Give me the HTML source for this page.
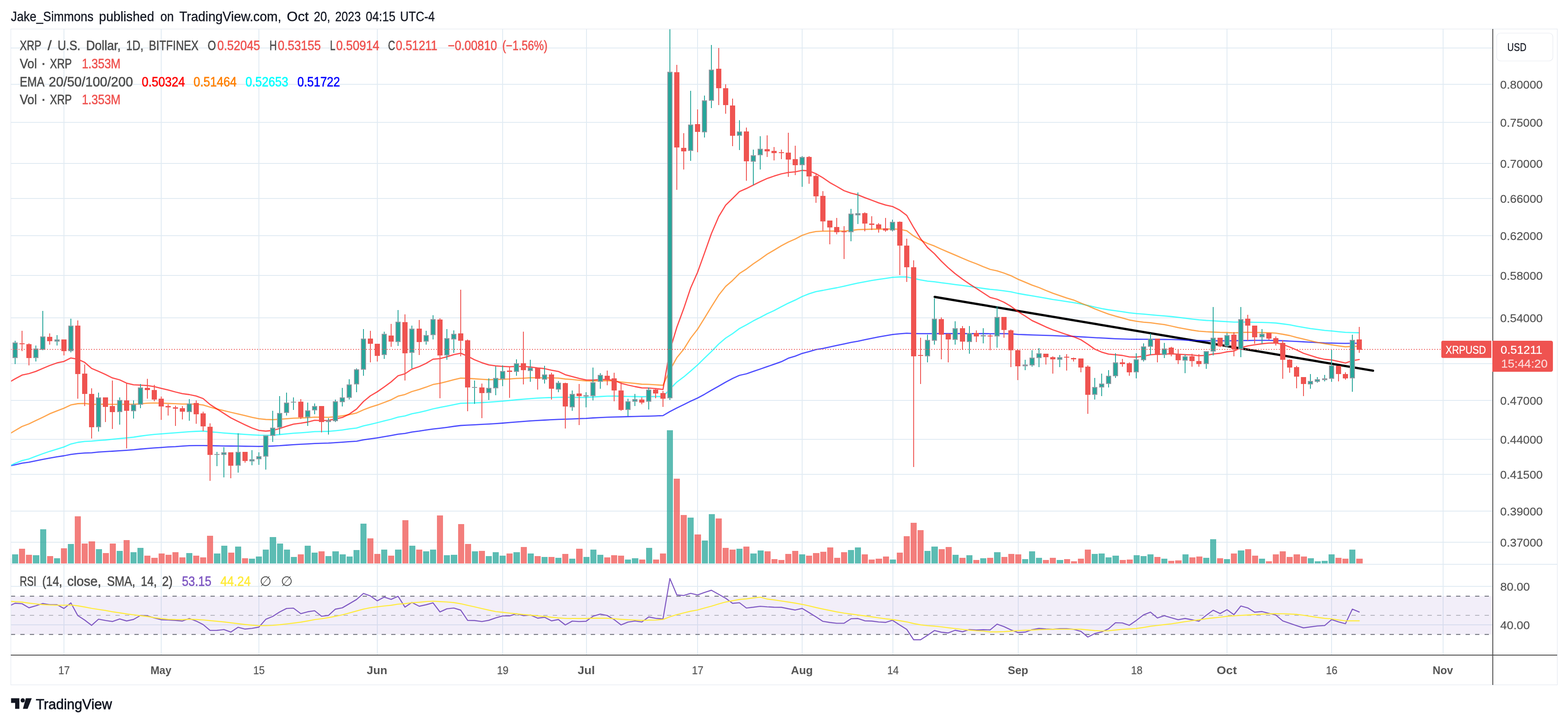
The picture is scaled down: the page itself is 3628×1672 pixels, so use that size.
<!DOCTYPE html>
<html lang="en"><head><meta charset="utf-8"><title>XRPUSD chart</title>
<style>html,body{margin:0;padding:0;background:#fff;}body{width:3628px;height:1672px;overflow:hidden;}svg{display:block;}text{font-family:'Liberation Sans', Arial, sans-serif;white-space:pre;stroke-width:0.3px;paint-order:stroke;}.b{font-weight:bold;}</style></head><body>
<svg width="3628" height="1672" viewBox="0 0 3628 1672">
<rect width="3628" height="1672" fill="#fff"/>
<g fill="#e1ebf3" shape-rendering="crispEdges">
<rect x="147" y="67" width="2" height="1448"/>
<rect x="372" y="67" width="2" height="1448"/>
<rect x="598" y="67" width="2" height="1448"/>
<rect x="872" y="67" width="2" height="1448"/>
<rect x="1162" y="67" width="2" height="1448"/>
<rect x="1356" y="67" width="2" height="1448"/>
<rect x="1613" y="67" width="2" height="1448"/>
<rect x="1855" y="67" width="2" height="1448"/>
<rect x="2065" y="67" width="2" height="1448"/>
<rect x="2355" y="67" width="2" height="1448"/>
<rect x="2629" y="67" width="2" height="1448"/>
<rect x="2838" y="67" width="2" height="1448"/>
<rect x="3080" y="67" width="2" height="1448"/>
<rect x="3338" y="67" width="2" height="1448"/>
<rect x="25" y="110" width="3428" height="2"/>
<rect x="25" y="194" width="3428" height="2"/>
<rect x="25" y="282" width="3428" height="2"/>
<rect x="25" y="377" width="3428" height="2"/>
<rect x="25" y="458" width="3428" height="2"/>
<rect x="25" y="544" width="3428" height="2"/>
<rect x="25" y="636" width="3428" height="2"/>
<rect x="25" y="734" width="3428" height="2"/>
<rect x="25" y="840" width="3428" height="2"/>
<rect x="25" y="925" width="3428" height="2"/>
<rect x="25" y="1015" width="3428" height="2"/>
<rect x="25" y="1096" width="3428" height="2"/>
<rect x="25" y="1181" width="3428" height="2"/>
<rect x="25" y="1253" width="3428" height="2"/>
<rect x="25" y="1355" width="3428" height="2"/>
<rect x="25" y="1444" width="3428" height="2"/>
</g>
<rect x="25" y="1378.7" width="3429" height="88.6" fill="#7e57c2" fill-opacity="0.1"/>
<line x1="25" y1="1378.7" x2="3454" y2="1378.7" stroke="#686b76" stroke-opacity="1" stroke-width="2" stroke-dasharray="10 12" stroke-dashoffset="0"/>
<line x1="25" y1="1423.0" x2="3454" y2="1423.0" stroke="#787b86" stroke-opacity="0.5" stroke-width="2" stroke-dasharray="10 12" stroke-dashoffset="0"/>
<line x1="25" y1="1467.3" x2="3454" y2="1467.3" stroke="#686b76" stroke-opacity="1" stroke-width="2" stroke-dasharray="10 12" stroke-dashoffset="0"/>
<g shape-rendering="crispEdges" fill-opacity="0.75">
<rect x="25" y="1291" width="1" height="12" fill="#26a69a"/>
<rect x="28" y="1282" width="14" height="21" fill="#26a69a"/>
<rect x="44" y="1269" width="14" height="34" fill="#ef5350"/>
<rect x="60" y="1283" width="14" height="20" fill="#ef5350"/>
<rect x="76" y="1284" width="15" height="19" fill="#26a69a"/>
<rect x="93" y="1224" width="14" height="79" fill="#26a69a"/>
<rect x="109" y="1286" width="14" height="17" fill="#ef5350"/>
<rect x="125" y="1291" width="14" height="12" fill="#26a69a"/>
<rect x="141" y="1268" width="14" height="35" fill="#ef5350"/>
<rect x="157" y="1258" width="14" height="45" fill="#26a69a"/>
<rect x="173" y="1194" width="14" height="109" fill="#ef5350"/>
<rect x="189" y="1257" width="14" height="46" fill="#ef5350"/>
<rect x="205" y="1252" width="15" height="51" fill="#ef5350"/>
<rect x="222" y="1270" width="14" height="33" fill="#26a69a"/>
<rect x="238" y="1279" width="14" height="24" fill="#ef5350"/>
<rect x="254" y="1257" width="14" height="46" fill="#ef5350"/>
<rect x="270" y="1274" width="14" height="29" fill="#26a69a"/>
<rect x="286" y="1249" width="14" height="54" fill="#ef5350"/>
<rect x="302" y="1277" width="14" height="26" fill="#26a69a"/>
<rect x="318" y="1267" width="14" height="36" fill="#26a69a"/>
<rect x="334" y="1285" width="14" height="18" fill="#ef5350"/>
<rect x="350" y="1290" width="15" height="13" fill="#ef5350"/>
<rect x="367" y="1280" width="14" height="23" fill="#ef5350"/>
<rect x="383" y="1283" width="14" height="20" fill="#ef5350"/>
<rect x="399" y="1277" width="14" height="26" fill="#ef5350"/>
<rect x="415" y="1289" width="14" height="14" fill="#ef5350"/>
<rect x="431" y="1279" width="14" height="24" fill="#26a69a"/>
<rect x="447" y="1285" width="14" height="18" fill="#ef5350"/>
<rect x="463" y="1289" width="14" height="14" fill="#ef5350"/>
<rect x="479" y="1239" width="14" height="64" fill="#ef5350"/>
<rect x="495" y="1280" width="15" height="23" fill="#26a69a"/>
<rect x="512" y="1262" width="14" height="41" fill="#26a69a"/>
<rect x="528" y="1278" width="14" height="25" fill="#ef5350"/>
<rect x="544" y="1264" width="14" height="39" fill="#26a69a"/>
<rect x="560" y="1291" width="14" height="12" fill="#ef5350"/>
<rect x="576" y="1292" width="14" height="11" fill="#26a69a"/>
<rect x="592" y="1287" width="14" height="16" fill="#26a69a"/>
<rect x="608" y="1271" width="14" height="32" fill="#26a69a"/>
<rect x="624" y="1242" width="15" height="61" fill="#26a69a"/>
<rect x="641" y="1257" width="14" height="46" fill="#26a69a"/>
<rect x="657" y="1271" width="14" height="32" fill="#26a69a"/>
<rect x="673" y="1288" width="14" height="15" fill="#26a69a"/>
<rect x="689" y="1282" width="14" height="21" fill="#ef5350"/>
<rect x="705" y="1262" width="14" height="41" fill="#26a69a"/>
<rect x="721" y="1278" width="14" height="25" fill="#26a69a"/>
<rect x="737" y="1275" width="14" height="28" fill="#ef5350"/>
<rect x="753" y="1286" width="14" height="17" fill="#26a69a"/>
<rect x="769" y="1275" width="15" height="28" fill="#26a69a"/>
<rect x="786" y="1282" width="14" height="21" fill="#26a69a"/>
<rect x="802" y="1287" width="14" height="16" fill="#26a69a"/>
<rect x="818" y="1272" width="14" height="31" fill="#26a69a"/>
<rect x="834" y="1211" width="14" height="92" fill="#26a69a"/>
<rect x="850" y="1245" width="14" height="58" fill="#ef5350"/>
<rect x="866" y="1281" width="14" height="22" fill="#ef5350"/>
<rect x="882" y="1271" width="14" height="32" fill="#26a69a"/>
<rect x="898" y="1285" width="14" height="18" fill="#ef5350"/>
<rect x="914" y="1271" width="15" height="32" fill="#26a69a"/>
<rect x="931" y="1203" width="14" height="100" fill="#ef5350"/>
<rect x="947" y="1262" width="14" height="41" fill="#26a69a"/>
<rect x="963" y="1271" width="14" height="32" fill="#ef5350"/>
<rect x="979" y="1275" width="14" height="28" fill="#26a69a"/>
<rect x="995" y="1271" width="14" height="32" fill="#26a69a"/>
<rect x="1011" y="1192" width="14" height="111" fill="#ef5350"/>
<rect x="1027" y="1284" width="14" height="19" fill="#26a69a"/>
<rect x="1043" y="1283" width="15" height="20" fill="#26a69a"/>
<rect x="1060" y="1212" width="14" height="91" fill="#ef5350"/>
<rect x="1076" y="1258" width="14" height="45" fill="#ef5350"/>
<rect x="1092" y="1275" width="14" height="28" fill="#26a69a"/>
<rect x="1108" y="1274" width="14" height="29" fill="#ef5350"/>
<rect x="1124" y="1286" width="14" height="17" fill="#26a69a"/>
<rect x="1140" y="1277" width="14" height="26" fill="#26a69a"/>
<rect x="1156" y="1285" width="14" height="18" fill="#26a69a"/>
<rect x="1172" y="1280" width="14" height="23" fill="#ef5350"/>
<rect x="1188" y="1277" width="15" height="26" fill="#26a69a"/>
<rect x="1205" y="1265" width="14" height="38" fill="#ef5350"/>
<rect x="1221" y="1280" width="14" height="23" fill="#26a69a"/>
<rect x="1237" y="1286" width="14" height="17" fill="#ef5350"/>
<rect x="1253" y="1288" width="14" height="15" fill="#26a69a"/>
<rect x="1269" y="1288" width="14" height="15" fill="#ef5350"/>
<rect x="1285" y="1290" width="14" height="13" fill="#26a69a"/>
<rect x="1301" y="1281" width="14" height="22" fill="#ef5350"/>
<rect x="1317" y="1292" width="14" height="11" fill="#26a69a"/>
<rect x="1333" y="1269" width="15" height="34" fill="#ef5350"/>
<rect x="1350" y="1288" width="14" height="15" fill="#26a69a"/>
<rect x="1366" y="1271" width="14" height="32" fill="#26a69a"/>
<rect x="1382" y="1283" width="14" height="20" fill="#26a69a"/>
<rect x="1398" y="1289" width="14" height="14" fill="#ef5350"/>
<rect x="1414" y="1284" width="14" height="19" fill="#ef5350"/>
<rect x="1430" y="1285" width="14" height="18" fill="#ef5350"/>
<rect x="1446" y="1294" width="14" height="9" fill="#26a69a"/>
<rect x="1462" y="1291" width="15" height="12" fill="#26a69a"/>
<rect x="1479" y="1294" width="14" height="9" fill="#ef5350"/>
<rect x="1495" y="1267" width="14" height="36" fill="#26a69a"/>
<rect x="1511" y="1294" width="14" height="9" fill="#ef5350"/>
<rect x="1527" y="1280" width="14" height="23" fill="#ef5350"/>
<rect x="1575" y="1191" width="14" height="112" fill="#ef5350"/>
<rect x="1591" y="1197" width="14" height="106" fill="#26a69a"/>
<rect x="1607" y="1236" width="15" height="67" fill="#ef5350"/>
<rect x="1624" y="1250" width="14" height="53" fill="#26a69a"/>
<rect x="1640" y="1189" width="14" height="114" fill="#26a69a"/>
<rect x="1656" y="1199" width="14" height="104" fill="#ef5350"/>
<rect x="1672" y="1267" width="14" height="36" fill="#ef5350"/>
<rect x="1688" y="1271" width="14" height="32" fill="#ef5350"/>
<rect x="1704" y="1269" width="14" height="34" fill="#26a69a"/>
<rect x="1720" y="1264" width="14" height="39" fill="#ef5350"/>
<rect x="1736" y="1280" width="15" height="23" fill="#26a69a"/>
<rect x="1753" y="1273" width="14" height="30" fill="#26a69a"/>
<rect x="1769" y="1275" width="14" height="28" fill="#ef5350"/>
<rect x="1785" y="1293" width="14" height="10" fill="#ef5350"/>
<rect x="1801" y="1295" width="14" height="8" fill="#ef5350"/>
<rect x="1817" y="1281" width="14" height="22" fill="#ef5350"/>
<rect x="1833" y="1274" width="14" height="29" fill="#ef5350"/>
<rect x="1849" y="1282" width="14" height="21" fill="#26a69a"/>
<rect x="1865" y="1285" width="14" height="18" fill="#ef5350"/>
<rect x="1881" y="1279" width="15" height="24" fill="#ef5350"/>
<rect x="1898" y="1276" width="14" height="27" fill="#ef5350"/>
<rect x="1914" y="1266" width="14" height="37" fill="#ef5350"/>
<rect x="1930" y="1290" width="14" height="13" fill="#ef5350"/>
<rect x="1946" y="1277" width="14" height="26" fill="#ef5350"/>
<rect x="1962" y="1272" width="14" height="31" fill="#26a69a"/>
<rect x="1978" y="1266" width="14" height="37" fill="#26a69a"/>
<rect x="1994" y="1282" width="14" height="21" fill="#ef5350"/>
<rect x="2010" y="1294" width="14" height="9" fill="#ef5350"/>
<rect x="2026" y="1292" width="15" height="11" fill="#ef5350"/>
<rect x="2043" y="1287" width="14" height="16" fill="#ef5350"/>
<rect x="2059" y="1294" width="14" height="9" fill="#26a69a"/>
<rect x="2075" y="1278" width="14" height="25" fill="#ef5350"/>
<rect x="2091" y="1240" width="14" height="63" fill="#ef5350"/>
<rect x="2107" y="1209" width="14" height="94" fill="#ef5350"/>
<rect x="2123" y="1226" width="14" height="77" fill="#ef5350"/>
<rect x="2139" y="1274" width="14" height="29" fill="#26a69a"/>
<rect x="2155" y="1264" width="15" height="39" fill="#26a69a"/>
<rect x="2172" y="1270" width="14" height="33" fill="#ef5350"/>
<rect x="2188" y="1265" width="14" height="38" fill="#ef5350"/>
<rect x="2204" y="1283" width="14" height="20" fill="#26a69a"/>
<rect x="2220" y="1290" width="14" height="13" fill="#ef5350"/>
<rect x="2236" y="1284" width="14" height="19" fill="#26a69a"/>
<rect x="2252" y="1295" width="14" height="8" fill="#ef5350"/>
<rect x="2268" y="1291" width="14" height="12" fill="#26a69a"/>
<rect x="2284" y="1290" width="14" height="13" fill="#ef5350"/>
<rect x="2300" y="1277" width="15" height="26" fill="#26a69a"/>
<rect x="2317" y="1288" width="14" height="15" fill="#ef5350"/>
<rect x="2333" y="1281" width="14" height="22" fill="#ef5350"/>
<rect x="2349" y="1282" width="14" height="21" fill="#ef5350"/>
<rect x="2365" y="1293" width="14" height="10" fill="#26a69a"/>
<rect x="2381" y="1275" width="14" height="28" fill="#26a69a"/>
<rect x="2397" y="1290" width="14" height="13" fill="#26a69a"/>
<rect x="2413" y="1295" width="14" height="8" fill="#ef5350"/>
<rect x="2429" y="1290" width="14" height="13" fill="#ef5350"/>
<rect x="2445" y="1295" width="15" height="8" fill="#26a69a"/>
<rect x="2462" y="1293" width="14" height="10" fill="#ef5350"/>
<rect x="2478" y="1298" width="14" height="5" fill="#ef5350"/>
<rect x="2494" y="1292" width="14" height="11" fill="#ef5350"/>
<rect x="2510" y="1271" width="14" height="32" fill="#ef5350"/>
<rect x="2526" y="1281" width="14" height="22" fill="#26a69a"/>
<rect x="2542" y="1280" width="14" height="23" fill="#26a69a"/>
<rect x="2558" y="1289" width="14" height="14" fill="#26a69a"/>
<rect x="2574" y="1285" width="15" height="18" fill="#26a69a"/>
<rect x="2591" y="1295" width="14" height="8" fill="#ef5350"/>
<rect x="2607" y="1294" width="14" height="9" fill="#ef5350"/>
<rect x="2623" y="1284" width="14" height="19" fill="#26a69a"/>
<rect x="2639" y="1286" width="14" height="17" fill="#26a69a"/>
<rect x="2655" y="1282" width="14" height="21" fill="#26a69a"/>
<rect x="2671" y="1288" width="14" height="15" fill="#ef5350"/>
<rect x="2687" y="1292" width="14" height="11" fill="#26a69a"/>
<rect x="2703" y="1297" width="14" height="6" fill="#ef5350"/>
<rect x="2719" y="1296" width="15" height="7" fill="#ef5350"/>
<rect x="2736" y="1282" width="14" height="21" fill="#26a69a"/>
<rect x="2752" y="1289" width="14" height="14" fill="#ef5350"/>
<rect x="2768" y="1287" width="14" height="16" fill="#ef5350"/>
<rect x="2784" y="1290" width="14" height="13" fill="#26a69a"/>
<rect x="2800" y="1247" width="14" height="56" fill="#26a69a"/>
<rect x="2816" y="1291" width="14" height="12" fill="#ef5350"/>
<rect x="2832" y="1293" width="14" height="10" fill="#26a69a"/>
<rect x="2848" y="1280" width="14" height="23" fill="#ef5350"/>
<rect x="2864" y="1273" width="15" height="30" fill="#26a69a"/>
<rect x="2881" y="1270" width="14" height="33" fill="#ef5350"/>
<rect x="2897" y="1285" width="14" height="18" fill="#ef5350"/>
<rect x="2913" y="1292" width="14" height="11" fill="#26a69a"/>
<rect x="2929" y="1298" width="14" height="5" fill="#ef5350"/>
<rect x="2945" y="1282" width="14" height="21" fill="#ef5350"/>
<rect x="2961" y="1275" width="14" height="28" fill="#ef5350"/>
<rect x="2977" y="1288" width="14" height="15" fill="#ef5350"/>
<rect x="2993" y="1282" width="15" height="21" fill="#ef5350"/>
<rect x="3010" y="1287" width="14" height="16" fill="#ef5350"/>
<rect x="3026" y="1291" width="14" height="12" fill="#26a69a"/>
<rect x="3042" y="1298" width="14" height="5" fill="#26a69a"/>
<rect x="3058" y="1297" width="14" height="6" fill="#26a69a"/>
<rect x="3074" y="1282" width="14" height="21" fill="#26a69a"/>
<rect x="3090" y="1290" width="14" height="13" fill="#ef5350"/>
<rect x="3106" y="1292" width="14" height="11" fill="#ef5350"/>
<rect x="3122" y="1271" width="14" height="32" fill="#26a69a"/>
<rect x="3138" y="1292" width="15" height="11" fill="#ef5350"/>
<rect x="1543" y="995" width="14" height="308" fill="#26a69a"/>
<rect x="1559" y="1107" width="14" height="196" fill="#ef5350"/>
</g>
<clipPath id="cm"><rect x="25" y="67" width="3429" height="1238"/></clipPath>
<g clip-path="url(#cm)">
<line x1="2162.6" y1="686.6" x2="3176.9" y2="857.2" stroke="#000" stroke-width="5.2" stroke-linecap="round"/>
<polyline points="25.0,1077.0 35.0,1074.8 51.0,1071.2 67.0,1068.8 83.0,1065.7 99.0,1062.4 115.0,1059.4 132.0,1056.4 148.0,1054.0 164.0,1050.9 180.0,1048.9 196.0,1047.6 212.0,1047.1 228.0,1045.3 244.0,1044.3 260.0,1043.5 277.0,1042.3 293.0,1041.4 309.0,1040.2 325.0,1038.5 341.0,1037.1 357.0,1035.8 373.0,1034.8 389.0,1033.7 406.0,1032.9 422.0,1031.7 438.0,1030.7 454.0,1030.4 470.0,1030.3 486.0,1030.7 502.0,1031.0 518.0,1031.3 534.0,1031.5 551.0,1031.7 567.0,1032.0 583.0,1032.2 599.0,1032.4 615.0,1032.0 631.0,1031.5 647.0,1030.7 663.0,1029.5 679.0,1028.4 696.0,1027.4 712.0,1026.6 728.0,1025.7 744.0,1025.2 760.0,1024.7 776.0,1023.6 792.0,1022.6 808.0,1021.4 825.0,1020.3 841.0,1017.2 857.0,1014.8 873.0,1012.6 889.0,1009.9 905.0,1007.1 921.0,1004.1 937.0,1002.4 953.0,999.1 970.0,996.9 986.0,994.4 1002.0,992.2 1018.0,990.4 1034.0,988.3 1050.0,986.0 1066.0,984.0 1082.0,983.1 1098.0,982.3 1115.0,981.4 1131.0,980.6 1147.0,979.7 1163.0,978.5 1179.0,977.2 1195.0,975.8 1211.0,974.6 1227.0,973.4 1244.0,972.3 1260.0,971.5 1276.0,970.6 1292.0,969.9 1308.0,969.4 1324.0,968.8 1340.0,968.2 1356.0,967.7 1372.0,966.5 1389.0,965.7 1405.0,964.8 1421.0,964.3 1437.0,964.0 1453.0,963.5 1469.0,963.1 1485.0,962.6 1501.0,962.3 1517.0,961.8 1534.0,961.1 1550.0,951.7 1566.0,943.4 1582.0,935.8 1598.0,927.8 1614.0,920.4 1630.0,911.9 1646.0,902.5 1663.0,893.0 1679.0,883.7 1695.0,875.2 1711.0,868.0 1727.0,864.5 1743.0,858.9 1759.0,853.5 1775.0,847.9 1791.0,842.4 1808.0,836.4 1824.0,828.4 1840.0,823.6 1856.0,817.3 1872.0,813.1 1888.0,808.4 1904.0,805.8 1920.0,802.4 1936.0,798.9 1953.0,795.3 1969.0,791.9 1985.0,789.1 2001.0,785.7 2017.0,782.3 2033.0,779.2 2049.0,776.3 2065.0,773.7 2082.0,771.9 2098.0,770.7 2114.0,771.3 2130.0,771.7 2146.0,771.7 2162.0,771.5 2178.0,771.5 2194.0,771.5 2210.0,771.5 2227.0,771.5 2243.0,771.5 2259.0,771.5 2275.0,771.5 2291.0,771.8 2307.0,771.6 2323.0,771.6 2339.0,772.0 2355.0,773.3 2372.0,774.0 2388.0,774.6 2404.0,775.2 2420.0,775.7 2436.0,776.2 2452.0,776.8 2468.0,777.3 2484.0,777.9 2501.0,779.0 2517.0,779.9 2533.0,780.8 2549.0,781.7 2565.0,782.5 2581.0,783.3 2597.0,783.8 2613.0,784.3 2629.0,784.5 2646.0,784.7 2662.0,784.7 2678.0,784.8 2694.0,785.0 2710.0,785.1 2726.0,785.6 2742.0,786.3 2758.0,787.1 2774.0,787.5 2791.0,788.0 2807.0,788.0 2823.0,788.1 2839.0,788.1 2855.0,788.0 2871.0,787.6 2887.0,787.5 2903.0,787.1 2920.0,787.1 2936.0,787.1 2952.0,787.5 2968.0,788.0 2984.0,788.8 3000.0,789.7 3016.0,790.5 3032.0,791.4 3048.0,792.2 3065.0,793.1 3081.0,793.4 3097.0,793.9 3113.0,794.1 3129.0,793.9 3145.0,793.8" fill="none" stroke="#0000ff" stroke-width="2.8" stroke-opacity="0.7" stroke-linejoin="round" stroke-linecap="round"/>
<polyline points="25.0,1076.3 35.0,1071.5 51.0,1065.1 67.0,1061.3 83.0,1055.1 99.0,1049.3 115.0,1043.8 132.0,1038.7 148.0,1033.6 164.0,1026.8 180.0,1023.0 196.0,1020.8 212.0,1020.2 228.0,1018.7 244.0,1017.5 260.0,1015.8 277.0,1014.1 293.0,1012.7 309.0,1011.0 325.0,1008.5 341.0,1006.4 357.0,1004.7 373.0,1003.3 389.0,1002.1 406.0,1000.9 422.0,999.6 438.0,998.4 454.0,997.5 470.0,997.0 486.0,998.7 502.0,999.9 518.0,1001.3 534.0,1002.5 551.0,1003.5 567.0,1004.7 583.0,1005.7 599.0,1006.4 615.0,1006.7 631.0,1006.4 647.0,1005.0 663.0,1003.3 679.0,1001.8 696.0,1000.8 712.0,999.6 728.0,998.2 744.0,997.9 760.0,997.5 776.0,996.1 792.0,994.4 808.0,991.9 825.0,989.8 841.0,984.9 857.0,981.3 873.0,977.5 889.0,973.4 905.0,969.5 921.0,964.6 937.0,961.9 953.0,956.9 970.0,953.7 986.0,949.8 1002.0,945.5 1018.0,942.2 1034.0,939.1 1050.0,935.8 1066.0,932.7 1082.0,932.2 1098.0,931.9 1115.0,931.0 1131.0,930.2 1147.0,928.8 1163.0,927.6 1179.0,926.2 1195.0,924.5 1211.0,923.2 1227.0,921.8 1244.0,920.7 1260.0,919.9 1276.0,919.4 1292.0,918.8 1308.0,918.7 1324.0,919.1 1340.0,919.1 1356.0,919.1 1372.0,918.2 1389.0,917.0 1405.0,916.2 1421.0,915.8 1437.0,916.5 1453.0,916.8 1469.0,917.0 1485.0,917.5 1501.0,917.2 1517.0,917.0 1534.0,917.0 1550.0,900.0 1566.0,883.6 1582.0,871.7 1598.0,858.1 1614.0,844.0 1630.0,828.2 1646.0,812.9 1663.0,795.5 1679.0,781.9 1695.0,771.6 1711.0,759.7 1727.0,751.2 1743.0,742.1 1759.0,734.1 1775.0,725.6 1791.0,718.2 1808.0,709.3 1824.0,701.1 1840.0,693.9 1856.0,685.7 1872.0,679.4 1888.0,674.3 1904.0,671.5 1920.0,668.3 1936.0,665.5 1953.0,661.9 1969.0,658.2 1985.0,654.7 2001.0,651.6 2017.0,648.7 2033.0,646.1 2049.0,643.9 2065.0,641.4 2082.0,640.5 2098.0,640.5 2114.0,643.9 2130.0,647.3 2146.0,650.2 2162.0,651.6 2178.0,653.8 2194.0,655.9 2210.0,658.1 2227.0,660.2 2243.0,662.4 2259.0,664.7 2275.0,667.0 2291.0,669.2 2307.0,670.6 2323.0,672.6 2339.0,674.8 2355.0,678.5 2372.0,681.5 2388.0,684.1 2404.0,686.8 2420.0,689.7 2436.0,692.6 2452.0,694.8 2468.0,697.3 2484.0,699.9 2501.0,702.9 2517.0,706.3 2533.0,710.2 2549.0,713.6 2565.0,716.5 2581.0,718.7 2597.0,720.9 2613.0,723.3 2629.0,725.2 2646.0,726.4 2662.0,727.8 2678.0,729.3 2694.0,730.7 2710.0,732.0 2726.0,733.8 2742.0,735.9 2758.0,737.9 2774.0,739.6 2791.0,741.0 2807.0,741.8 2823.0,743.0 2839.0,743.9 2855.0,744.9 2871.0,744.8 2887.0,744.8 2903.0,745.3 2920.0,745.6 2936.0,746.1 2952.0,747.0 2968.0,749.0 2984.0,751.2 3000.0,754.3 3016.0,757.2 3032.0,759.8 3048.0,761.8 3065.0,764.1 3081.0,765.4 3097.0,767.1 3113.0,768.7 3129.0,769.2 3145.0,769.5" fill="none" stroke="#00ffff" stroke-width="2.8" stroke-opacity="0.7" stroke-linejoin="round" stroke-linecap="round"/>
<polyline points="25.0,1001.6 35.0,995.6 51.0,986.3 67.0,980.3 83.0,972.6 99.0,964.9 115.0,956.9 132.0,950.1 148.0,944.0 164.0,936.4 180.0,933.5 196.0,933.0 212.0,935.0 228.0,935.0 244.0,934.7 260.0,935.2 277.0,935.0 293.0,935.0 309.0,935.0 325.0,933.8 341.0,932.3 357.0,931.9 373.0,932.3 389.0,933.0 406.0,933.6 422.0,934.3 438.0,934.3 454.0,934.7 470.0,936.7 486.0,941.5 502.0,945.8 518.0,949.7 534.0,953.5 551.0,957.4 567.0,961.1 583.0,965.1 599.0,968.3 615.0,970.0 631.0,970.5 647.0,969.7 663.0,968.3 679.0,967.1 696.0,966.6 712.0,965.9 728.0,964.6 744.0,964.9 760.0,965.1 776.0,964.0 792.0,961.7 808.0,958.9 825.0,955.1 841.0,947.7 857.0,941.6 873.0,936.7 889.0,930.7 905.0,924.6 921.0,916.2 937.0,912.3 953.0,905.5 970.0,900.6 986.0,895.2 1002.0,889.2 1018.0,886.3 1034.0,882.4 1050.0,878.1 1066.0,874.3 1082.0,875.0 1098.0,876.0 1115.0,877.2 1131.0,878.1 1147.0,877.7 1163.0,877.1 1179.0,876.4 1195.0,875.2 1211.0,874.7 1227.0,873.6 1244.0,873.6 1260.0,873.8 1276.0,873.8 1292.0,874.3 1308.0,876.5 1324.0,877.7 1340.0,879.4 1356.0,880.8 1372.0,881.1 1389.0,880.6 1405.0,880.3 1421.0,881.1 1437.0,883.4 1453.0,885.1 1469.0,886.6 1485.0,888.5 1501.0,888.8 1517.0,889.9 1534.0,891.0 1550.0,856.1 1566.0,827.2 1582.0,807.7 1598.0,782.0 1614.0,761.4 1630.0,735.8 1646.0,709.4 1663.0,682.4 1679.0,662.4 1695.0,648.6 1711.0,632.4 1727.0,622.2 1743.0,610.2 1759.0,599.3 1775.0,587.9 1791.0,578.5 1808.0,568.2 1824.0,559.7 1840.0,552.8 1856.0,544.3 1872.0,538.7 1888.0,535.3 1904.0,534.6 1920.0,534.4 1936.0,534.4 1953.0,534.4 1969.0,533.0 1985.0,531.0 2001.0,530.5 2017.0,530.0 2033.0,530.0 2049.0,529.7 2065.0,529.3 2082.0,530.4 2098.0,533.6 2114.0,545.8 2130.0,555.3 2146.0,563.0 2162.0,568.9 2178.0,576.3 2194.0,583.1 2210.0,589.9 2227.0,597.2 2243.0,604.0 2259.0,610.0 2275.0,616.8 2291.0,623.0 2307.0,626.4 2323.0,631.5 2339.0,637.6 2355.0,645.6 2372.0,652.6 2388.0,659.4 2404.0,665.0 2420.0,671.8 2436.0,678.1 2452.0,683.6 2468.0,689.1 2484.0,693.8 2501.0,701.0 2517.0,707.3 2533.0,714.2 2549.0,720.5 2565.0,726.4 2581.0,731.1 2597.0,735.4 2613.0,740.0 2629.0,742.9 2646.0,745.2 2662.0,746.3 2678.0,748.6 2694.0,750.7 2710.0,754.0 2726.0,757.7 2742.0,760.6 2758.0,763.5 2774.0,765.8 2791.0,767.2 2807.0,768.0 2823.0,768.7 2839.0,769.0 2855.0,770.0 2871.0,768.8 2887.0,768.3 2903.0,768.8 2920.0,769.2 2936.0,769.5 2952.0,770.4 2968.0,773.0 2984.0,776.0 3000.0,780.3 3016.0,784.1 3032.0,788.0 3048.0,791.9 3065.0,794.8 3081.0,797.4 3097.0,799.9 3113.0,802.0 3129.0,801.1 3145.0,800.8" fill="none" stroke="#ff7f00" stroke-width="2.8" stroke-opacity="0.7" stroke-linejoin="round" stroke-linecap="round"/>
<polyline points="25.0,881.9 35.0,876.0 51.0,867.4 67.0,864.0 83.0,858.9 99.0,852.0 115.0,845.2 132.0,839.2 148.0,835.8 164.0,827.8 180.0,830.7 196.0,838.1 212.0,852.0 228.0,858.8 244.0,866.1 260.0,873.9 277.0,878.5 293.0,886.1 309.0,889.9 325.0,890.6 341.0,891.6 357.0,894.2 373.0,898.1 389.0,901.9 406.0,906.5 422.0,910.4 438.0,912.5 454.0,915.9 470.0,921.8 486.0,935.5 502.0,945.8 518.0,956.0 534.0,966.3 551.0,974.8 567.0,982.4 583.0,989.8 599.0,995.3 615.0,997.0 631.0,995.5 647.0,991.0 663.0,985.6 679.0,980.8 696.0,978.6 712.0,976.0 728.0,971.9 744.0,972.6 760.0,972.2 776.0,968.8 792.0,965.4 808.0,957.7 825.0,946.0 841.0,928.5 857.0,915.4 873.0,906.0 889.0,894.8 905.0,883.1 921.0,869.0 937.0,864.4 953.0,853.6 970.0,847.7 986.0,840.2 1002.0,830.6 1018.0,829.4 1034.0,825.1 1050.0,820.2 1066.0,816.9 1082.0,823.7 1098.0,832.0 1115.0,838.8 1131.0,843.9 1147.0,846.1 1163.0,847.3 1179.0,848.2 1195.0,847.3 1211.0,847.3 1227.0,848.7 1244.0,850.9 1260.0,852.5 1276.0,856.2 1292.0,859.1 1308.0,866.6 1324.0,870.9 1340.0,875.2 1356.0,878.6 1372.0,878.9 1389.0,877.7 1405.0,877.7 1421.0,879.8 1437.0,886.3 1453.0,890.5 1469.0,894.0 1485.0,897.0 1501.0,897.4 1517.0,898.7 1534.0,900.7 1550.0,810.1 1566.0,757.0 1582.0,713.6 1598.0,666.0 1614.0,629.8 1630.0,585.4 1646.0,540.3 1663.0,500.8 1679.0,474.4 1695.0,458.9 1711.0,443.0 1727.0,435.9 1743.0,428.1 1759.0,420.1 1775.0,412.8 1791.0,407.2 1808.0,402.0 1824.0,398.8 1840.0,397.3 1856.0,394.0 1872.0,395.2 1888.0,401.7 1904.0,411.1 1920.0,422.2 1936.0,431.1 1953.0,441.0 1969.0,446.6 1985.0,450.6 2001.0,457.1 2017.0,463.0 2033.0,469.1 2049.0,474.2 2065.0,477.6 2082.0,486.1 2098.0,498.1 2114.0,526.1 2130.0,551.9 2146.0,572.4 2162.0,586.8 2178.0,604.0 2194.0,619.3 2210.0,632.9 2227.0,645.7 2243.0,656.7 2259.0,666.9 2275.0,677.3 2291.0,687.9 2307.0,692.0 2323.0,699.0 2339.0,708.3 2355.0,720.2 2372.0,730.9 2388.0,741.4 2404.0,748.6 2420.0,756.1 2436.0,762.7 2452.0,768.2 2468.0,773.7 2484.0,778.8 2501.0,785.8 2517.0,796.1 2533.0,807.5 2549.0,814.3 2565.0,818.9 2581.0,820.3 2597.0,822.0 2613.0,825.4 2629.0,825.9 2646.0,823.7 2662.0,820.3 2678.0,819.4 2694.0,818.9 2710.0,818.2 2726.0,819.2 2742.0,820.1 2758.0,820.9 2774.0,822.6 2791.0,821.9 2807.0,818.7 2823.0,817.0 2839.0,813.6 2855.0,811.9 2871.0,804.2 2887.0,799.9 2903.0,797.4 2920.0,795.0 2936.0,793.4 2952.0,793.1 2968.0,796.5 2984.0,802.5 3000.0,809.3 3016.0,817.0 3032.0,822.1 3048.0,827.2 3065.0,831.0 3081.0,832.4 3097.0,835.8 3113.0,839.5 3129.0,834.1 3145.0,831.4" fill="none" stroke="#ff0000" stroke-width="2.8" stroke-opacity="0.7" stroke-linejoin="round" stroke-linecap="round"/>
<g shape-rendering="crispEdges">
<rect x="34" y="788" width="2" height="54" fill="#26a69a"/>
<rect x="29" y="792" width="12" height="36" fill="#9598a1"/><rect x="31" y="794" width="8" height="32" fill="#26a69a"/>
<rect x="50" y="765" width="2" height="47" fill="#ef5350"/><rect x="45" y="794" width="12" height="2" fill="#ef5350"/>
<rect x="66" y="794" width="2" height="51" fill="#ef5350"/><rect x="61" y="796" width="12" height="32" fill="#ef5350"/>
<rect x="82" y="799" width="2" height="37" fill="#26a69a"/>
<rect x="77" y="806" width="12" height="22" fill="#9598a1"/><rect x="79" y="808" width="8" height="18" fill="#26a69a"/>
<rect x="98" y="719" width="2" height="91" fill="#26a69a"/>
<rect x="93" y="778" width="12" height="31" fill="#9598a1"/><rect x="95" y="780" width="8" height="27" fill="#26a69a"/>
<rect x="114" y="771" width="2" height="26" fill="#ef5350"/><rect x="109" y="779" width="12" height="10" fill="#ef5350"/>
<rect x="131" y="775" width="2" height="24" fill="#26a69a"/>
<rect x="126" y="785" width="12" height="5" fill="#9598a1"/><rect x="128" y="787" width="8" height="1" fill="#26a69a"/>
<rect x="147" y="785" width="2" height="37" fill="#ef5350"/><rect x="142" y="785" width="12" height="27" fill="#ef5350"/>
<rect x="163" y="737" width="2" height="78" fill="#26a69a"/>
<rect x="158" y="753" width="12" height="59" fill="#9598a1"/><rect x="160" y="755" width="8" height="55" fill="#26a69a"/>
<rect x="179" y="741" width="2" height="181" fill="#ef5350"/><rect x="174" y="753" width="12" height="112" fill="#ef5350"/>
<rect x="195" y="843" width="2" height="96" fill="#ef5350"/><rect x="190" y="864" width="12" height="47" fill="#ef5350"/>
<rect x="211" y="898" width="2" height="116" fill="#ef5350"/><rect x="206" y="911" width="12" height="77" fill="#ef5350"/>
<rect x="227" y="908" width="2" height="90" fill="#26a69a"/>
<rect x="222" y="919" width="12" height="69" fill="#9598a1"/><rect x="224" y="921" width="8" height="65" fill="#26a69a"/>
<rect x="243" y="919" width="2" height="57" fill="#ef5350"/><rect x="238" y="919" width="12" height="22" fill="#ef5350"/>
<rect x="259" y="880" width="2" height="112" fill="#ef5350"/><rect x="254" y="939" width="12" height="14" fill="#ef5350"/>
<rect x="276" y="919" width="2" height="63" fill="#26a69a"/>
<rect x="271" y="925" width="12" height="28" fill="#9598a1"/><rect x="273" y="927" width="8" height="24" fill="#26a69a"/>
<rect x="292" y="887" width="2" height="150" fill="#ef5350"/><rect x="287" y="926" width="12" height="24" fill="#ef5350"/>
<rect x="308" y="926" width="2" height="42" fill="#26a69a"/>
<rect x="303" y="935" width="12" height="16" fill="#9598a1"/><rect x="305" y="937" width="8" height="12" fill="#26a69a"/>
<rect x="324" y="888" width="2" height="56" fill="#26a69a"/>
<rect x="319" y="896" width="12" height="40" fill="#9598a1"/><rect x="321" y="898" width="8" height="36" fill="#26a69a"/>
<rect x="340" y="876" width="2" height="46" fill="#ef5350"/><rect x="335" y="897" width="12" height="5" fill="#ef5350"/>
<rect x="356" y="890" width="2" height="38" fill="#ef5350"/><rect x="351" y="902" width="12" height="22" fill="#ef5350"/>
<rect x="372" y="917" width="2" height="54" fill="#ef5350"/><rect x="367" y="922" width="12" height="18" fill="#ef5350"/>
<rect x="388" y="935" width="2" height="26" fill="#ef5350"/><rect x="383" y="939" width="12" height="3" fill="#ef5350"/>
<rect x="405" y="938" width="2" height="47" fill="#ef5350"/><rect x="400" y="942" width="12" height="3" fill="#ef5350"/>
<rect x="421" y="939" width="2" height="31" fill="#ef5350"/><rect x="416" y="944" width="12" height="8" fill="#ef5350"/>
<rect x="437" y="923" width="2" height="50" fill="#26a69a"/>
<rect x="432" y="933" width="12" height="20" fill="#9598a1"/><rect x="434" y="935" width="8" height="16" fill="#26a69a"/>
<rect x="453" y="926" width="2" height="54" fill="#ef5350"/><rect x="448" y="932" width="12" height="26" fill="#ef5350"/>
<rect x="469" y="952" width="2" height="45" fill="#ef5350"/><rect x="464" y="956" width="12" height="30" fill="#ef5350"/>
<rect x="485" y="979" width="2" height="133" fill="#ef5350"/><rect x="480" y="987" width="12" height="65" fill="#ef5350"/>
<rect x="501" y="1045" width="2" height="33" fill="#26a69a"/>
<rect x="496" y="1050" width="12" height="2" fill="#9598a1"/>
<rect x="517" y="1034" width="2" height="70" fill="#26a69a"/>
<rect x="512" y="1046" width="12" height="6" fill="#9598a1"/><rect x="514" y="1048" width="8" height="2" fill="#26a69a"/>
<rect x="533" y="1046" width="2" height="60" fill="#ef5350"/><rect x="528" y="1046" width="12" height="31" fill="#ef5350"/>
<rect x="550" y="1002" width="2" height="91" fill="#26a69a"/>
<rect x="545" y="1045" width="12" height="32" fill="#9598a1"/><rect x="547" y="1047" width="8" height="28" fill="#26a69a"/>
<rect x="566" y="1045" width="2" height="25" fill="#ef5350"/><rect x="561" y="1045" width="12" height="21" fill="#ef5350"/>
<rect x="582" y="1041" width="2" height="35" fill="#26a69a"/>
<rect x="577" y="1062" width="12" height="5" fill="#9598a1"/><rect x="579" y="1064" width="8" height="1" fill="#26a69a"/>
<rect x="598" y="1046" width="2" height="29" fill="#26a69a"/>
<rect x="593" y="1055" width="12" height="7" fill="#9598a1"/><rect x="595" y="1057" width="8" height="3" fill="#26a69a"/>
<rect x="614" y="1007" width="2" height="79" fill="#26a69a"/>
<rect x="609" y="1007" width="12" height="49" fill="#9598a1"/><rect x="611" y="1009" width="8" height="45" fill="#26a69a"/>
<rect x="630" y="950" width="2" height="72" fill="#26a69a"/>
<rect x="625" y="989" width="12" height="19" fill="#9598a1"/><rect x="627" y="991" width="8" height="15" fill="#26a69a"/>
<rect x="646" y="916" width="2" height="89" fill="#26a69a"/>
<rect x="641" y="955" width="12" height="34" fill="#9598a1"/><rect x="643" y="957" width="8" height="30" fill="#26a69a"/>
<rect x="662" y="908" width="2" height="53" fill="#26a69a"/>
<rect x="657" y="931" width="12" height="24" fill="#9598a1"/><rect x="659" y="933" width="8" height="20" fill="#26a69a"/>
<rect x="678" y="919" width="2" height="29" fill="#26a69a"/>
<rect x="673" y="929" width="12" height="2" fill="#9598a1"/>
<rect x="695" y="923" width="2" height="46" fill="#ef5350"/><rect x="690" y="929" width="12" height="36" fill="#ef5350"/>
<rect x="711" y="931" width="2" height="54" fill="#26a69a"/>
<rect x="706" y="949" width="12" height="16" fill="#9598a1"/><rect x="708" y="951" width="8" height="12" fill="#26a69a"/>
<rect x="727" y="933" width="2" height="25" fill="#26a69a"/>
<rect x="722" y="939" width="12" height="10" fill="#9598a1"/><rect x="724" y="941" width="8" height="6" fill="#26a69a"/>
<rect x="743" y="939" width="2" height="61" fill="#ef5350"/><rect x="738" y="939" width="12" height="37" fill="#ef5350"/>
<rect x="759" y="967" width="2" height="38" fill="#26a69a"/>
<rect x="754" y="972" width="12" height="4" fill="#9598a1"/>
<rect x="775" y="924" width="2" height="52" fill="#26a69a"/>
<rect x="770" y="928" width="12" height="46" fill="#9598a1"/><rect x="772" y="930" width="8" height="42" fill="#26a69a"/>
<rect x="791" y="897" width="2" height="43" fill="#26a69a"/>
<rect x="786" y="919" width="12" height="11" fill="#9598a1"/><rect x="788" y="921" width="8" height="7" fill="#26a69a"/>
<rect x="807" y="877" width="2" height="47" fill="#26a69a"/>
<rect x="802" y="889" width="12" height="31" fill="#9598a1"/><rect x="804" y="891" width="8" height="27" fill="#26a69a"/>
<rect x="824" y="852" width="2" height="55" fill="#26a69a"/>
<rect x="819" y="854" width="12" height="35" fill="#9598a1"/><rect x="821" y="856" width="8" height="31" fill="#26a69a"/>
<rect x="840" y="761" width="2" height="108" fill="#26a69a"/>
<rect x="835" y="783" width="12" height="72" fill="#9598a1"/><rect x="837" y="785" width="8" height="68" fill="#26a69a"/>
<rect x="856" y="765" width="2" height="73" fill="#ef5350"/><rect x="851" y="783" width="12" height="12" fill="#ef5350"/>
<rect x="872" y="795" width="2" height="41" fill="#ef5350"/><rect x="867" y="795" width="12" height="28" fill="#ef5350"/>
<rect x="888" y="767" width="2" height="63" fill="#26a69a"/>
<rect x="883" y="772" width="12" height="49" fill="#9598a1"/><rect x="885" y="774" width="8" height="45" fill="#26a69a"/>
<rect x="904" y="749" width="2" height="53" fill="#ef5350"/><rect x="899" y="776" width="12" height="14" fill="#ef5350"/>
<rect x="920" y="717" width="2" height="83" fill="#26a69a"/>
<rect x="915" y="744" width="12" height="47" fill="#9598a1"/><rect x="917" y="746" width="8" height="43" fill="#26a69a"/>
<rect x="936" y="727" width="2" height="153" fill="#ef5350"/><rect x="931" y="745" width="12" height="72" fill="#ef5350"/>
<rect x="952" y="753" width="2" height="99" fill="#26a69a"/>
<rect x="947" y="760" width="12" height="56" fill="#9598a1"/><rect x="949" y="762" width="8" height="52" fill="#26a69a"/>
<rect x="969" y="740" width="2" height="81" fill="#ef5350"/><rect x="964" y="760" width="12" height="31" fill="#ef5350"/>
<rect x="985" y="765" width="2" height="32" fill="#26a69a"/>
<rect x="980" y="775" width="12" height="15" fill="#9598a1"/><rect x="982" y="777" width="8" height="11" fill="#26a69a"/>
<rect x="1001" y="729" width="2" height="56" fill="#26a69a"/>
<rect x="996" y="738" width="12" height="37" fill="#9598a1"/><rect x="998" y="740" width="8" height="33" fill="#26a69a"/>
<rect x="1017" y="736" width="2" height="185" fill="#ef5350"/><rect x="1012" y="739" width="12" height="83" fill="#ef5350"/>
<rect x="1033" y="761" width="2" height="71" fill="#26a69a"/>
<rect x="1028" y="782" width="12" height="40" fill="#9598a1"/><rect x="1030" y="784" width="8" height="36" fill="#26a69a"/>
<rect x="1049" y="764" width="2" height="52" fill="#26a69a"/>
<rect x="1044" y="772" width="12" height="13" fill="#9598a1"/><rect x="1046" y="774" width="8" height="9" fill="#26a69a"/>
<rect x="1065" y="670" width="2" height="154" fill="#ef5350"/><rect x="1060" y="771" width="12" height="17" fill="#ef5350"/>
<rect x="1081" y="785" width="2" height="166" fill="#ef5350"/><rect x="1076" y="787" width="12" height="109" fill="#ef5350"/>
<rect x="1097" y="880" width="2" height="54" fill="#26a69a"/>
<rect x="1092" y="895" width="12" height="2" fill="#9598a1"/>
<rect x="1114" y="887" width="2" height="80" fill="#ef5350"/><rect x="1109" y="896" width="12" height="13" fill="#ef5350"/>
<rect x="1130" y="875" width="2" height="50" fill="#26a69a"/>
<rect x="1125" y="897" width="12" height="12" fill="#9598a1"/><rect x="1127" y="899" width="8" height="8" fill="#26a69a"/>
<rect x="1146" y="847" width="2" height="67" fill="#26a69a"/>
<rect x="1141" y="874" width="12" height="24" fill="#9598a1"/><rect x="1143" y="876" width="8" height="20" fill="#26a69a"/>
<rect x="1162" y="845" width="2" height="48" fill="#26a69a"/>
<rect x="1157" y="858" width="12" height="19" fill="#9598a1"/><rect x="1159" y="860" width="8" height="15" fill="#26a69a"/>
<rect x="1178" y="849" width="2" height="71" fill="#ef5350"/><rect x="1173" y="857" width="12" height="3" fill="#ef5350"/>
<rect x="1194" y="831" width="2" height="38" fill="#26a69a"/>
<rect x="1189" y="840" width="12" height="20" fill="#9598a1"/><rect x="1191" y="842" width="8" height="16" fill="#26a69a"/>
<rect x="1210" y="767" width="2" height="122" fill="#ef5350"/><rect x="1205" y="840" width="12" height="16" fill="#ef5350"/>
<rect x="1226" y="832" width="2" height="51" fill="#26a69a"/>
<rect x="1221" y="850" width="12" height="8" fill="#9598a1"/><rect x="1223" y="852" width="8" height="4" fill="#26a69a"/>
<rect x="1243" y="850" width="2" height="51" fill="#ef5350"/><rect x="1238" y="850" width="12" height="26" fill="#ef5350"/>
<rect x="1259" y="846" width="2" height="41" fill="#26a69a"/>
<rect x="1254" y="866" width="12" height="12" fill="#9598a1"/><rect x="1256" y="868" width="8" height="8" fill="#26a69a"/>
<rect x="1275" y="862" width="2" height="62" fill="#ef5350"/><rect x="1270" y="866" width="12" height="33" fill="#ef5350"/>
<rect x="1291" y="881" width="2" height="26" fill="#26a69a"/>
<rect x="1286" y="885" width="12" height="16" fill="#9598a1"/><rect x="1288" y="887" width="8" height="12" fill="#26a69a"/>
<rect x="1307" y="885" width="2" height="106" fill="#ef5350"/><rect x="1302" y="886" width="12" height="54" fill="#ef5350"/>
<rect x="1323" y="903" width="2" height="47" fill="#26a69a"/>
<rect x="1318" y="911" width="12" height="31" fill="#9598a1"/><rect x="1320" y="913" width="8" height="27" fill="#26a69a"/>
<rect x="1339" y="888" width="2" height="95" fill="#ef5350"/><rect x="1334" y="910" width="12" height="6" fill="#ef5350"/>
<rect x="1355" y="907" width="2" height="35" fill="#26a69a"/>
<rect x="1350" y="914" width="12" height="3" fill="#9598a1"/>
<rect x="1371" y="850" width="2" height="76" fill="#26a69a"/>
<rect x="1366" y="884" width="12" height="32" fill="#9598a1"/><rect x="1368" y="886" width="8" height="28" fill="#26a69a"/>
<rect x="1388" y="863" width="2" height="36" fill="#26a69a"/>
<rect x="1383" y="867" width="12" height="16" fill="#9598a1"/><rect x="1385" y="869" width="8" height="12" fill="#26a69a"/>
<rect x="1404" y="857" width="2" height="34" fill="#ef5350"/><rect x="1399" y="869" width="12" height="8" fill="#ef5350"/>
<rect x="1420" y="862" width="2" height="66" fill="#ef5350"/><rect x="1415" y="875" width="12" height="28" fill="#ef5350"/>
<rect x="1436" y="884" width="2" height="66" fill="#ef5350"/><rect x="1431" y="903" width="12" height="45" fill="#ef5350"/>
<rect x="1452" y="922" width="2" height="40" fill="#26a69a"/>
<rect x="1447" y="928" width="12" height="20" fill="#9598a1"/><rect x="1449" y="930" width="8" height="16" fill="#26a69a"/>
<rect x="1468" y="911" width="2" height="28" fill="#26a69a"/>
<rect x="1463" y="923" width="12" height="6" fill="#9598a1"/><rect x="1465" y="925" width="8" height="2" fill="#26a69a"/>
<rect x="1484" y="919" width="2" height="16" fill="#ef5350"/><rect x="1479" y="924" width="12" height="7" fill="#ef5350"/>
<rect x="1500" y="896" width="2" height="51" fill="#26a69a"/>
<rect x="1495" y="901" width="12" height="28" fill="#9598a1"/><rect x="1497" y="903" width="8" height="24" fill="#26a69a"/>
<rect x="1516" y="900" width="2" height="21" fill="#ef5350"/><rect x="1511" y="901" width="12" height="9" fill="#ef5350"/>
<rect x="1533" y="904" width="2" height="37" fill="#ef5350"/><rect x="1528" y="909" width="12" height="13" fill="#ef5350"/>
<rect x="1549" y="67" width="2" height="858" fill="#26a69a"/>
<rect x="1544" y="166" width="12" height="755" fill="#9598a1"/><rect x="1546" y="168" width="8" height="751" fill="#26a69a"/>
<rect x="1565" y="150" width="2" height="289" fill="#ef5350"/><rect x="1560" y="167" width="12" height="174" fill="#ef5350"/>
<rect x="1581" y="308" width="2" height="84" fill="#ef5350"/><rect x="1576" y="342" width="12" height="8" fill="#ef5350"/>
<rect x="1597" y="210" width="2" height="162" fill="#26a69a"/>
<rect x="1592" y="288" width="12" height="61" fill="#9598a1"/><rect x="1594" y="290" width="8" height="57" fill="#26a69a"/>
<rect x="1613" y="253" width="2" height="99" fill="#ef5350"/><rect x="1608" y="287" width="12" height="18" fill="#ef5350"/>
<rect x="1629" y="221" width="2" height="97" fill="#26a69a"/>
<rect x="1624" y="232" width="12" height="74" fill="#9598a1"/><rect x="1626" y="234" width="8" height="70" fill="#26a69a"/>
<rect x="1645" y="104" width="2" height="146" fill="#26a69a"/>
<rect x="1640" y="161" width="12" height="72" fill="#9598a1"/><rect x="1642" y="163" width="8" height="68" fill="#26a69a"/>
<rect x="1662" y="111" width="2" height="132" fill="#ef5350"/><rect x="1657" y="159" width="12" height="45" fill="#ef5350"/>
<rect x="1678" y="195" width="2" height="68" fill="#ef5350"/><rect x="1673" y="204" width="12" height="39" fill="#ef5350"/>
<rect x="1694" y="228" width="2" height="110" fill="#ef5350"/><rect x="1689" y="244" width="12" height="70" fill="#ef5350"/>
<rect x="1710" y="278" width="2" height="69" fill="#26a69a"/>
<rect x="1705" y="304" width="12" height="10" fill="#9598a1"/><rect x="1707" y="306" width="8" height="6" fill="#26a69a"/>
<rect x="1726" y="295" width="2" height="123" fill="#ef5350"/><rect x="1721" y="304" width="12" height="69" fill="#ef5350"/>
<rect x="1742" y="346" width="2" height="82" fill="#26a69a"/>
<rect x="1737" y="359" width="12" height="15" fill="#9598a1"/><rect x="1739" y="361" width="8" height="11" fill="#26a69a"/>
<rect x="1758" y="315" width="2" height="77" fill="#26a69a"/>
<rect x="1753" y="344" width="12" height="15" fill="#9598a1"/><rect x="1755" y="346" width="8" height="11" fill="#26a69a"/>
<rect x="1774" y="313" width="2" height="50" fill="#ef5350"/><rect x="1769" y="345" width="12" height="5" fill="#ef5350"/>
<rect x="1790" y="340" width="2" height="31" fill="#ef5350"/><rect x="1785" y="349" width="12" height="5" fill="#ef5350"/>
<rect x="1807" y="346" width="2" height="22" fill="#ef5350"/><rect x="1802" y="352" width="12" height="2" fill="#ef5350"/>
<rect x="1823" y="307" width="2" height="102" fill="#ef5350"/><rect x="1818" y="353" width="12" height="16" fill="#ef5350"/>
<rect x="1839" y="337" width="2" height="68" fill="#ef5350"/><rect x="1834" y="368" width="12" height="14" fill="#ef5350"/>
<rect x="1855" y="361" width="2" height="71" fill="#26a69a"/>
<rect x="1850" y="363" width="12" height="19" fill="#9598a1"/><rect x="1852" y="365" width="8" height="15" fill="#26a69a"/>
<rect x="1871" y="361" width="2" height="64" fill="#ef5350"/><rect x="1866" y="363" width="12" height="45" fill="#ef5350"/>
<rect x="1887" y="403" width="2" height="66" fill="#ef5350"/><rect x="1882" y="407" width="12" height="47" fill="#ef5350"/>
<rect x="1903" y="442" width="2" height="92" fill="#ef5350"/><rect x="1898" y="453" width="12" height="59" fill="#ef5350"/>
<rect x="1919" y="510" width="2" height="55" fill="#ef5350"/><rect x="1914" y="510" width="12" height="16" fill="#ef5350"/>
<rect x="1935" y="504" width="2" height="38" fill="#ef5350"/><rect x="1930" y="525" width="12" height="12" fill="#ef5350"/>
<rect x="1952" y="523" width="2" height="76" fill="#ef5350"/><rect x="1947" y="535" width="12" height="2" fill="#ef5350"/>
<rect x="1968" y="483" width="2" height="75" fill="#26a69a"/>
<rect x="1963" y="494" width="12" height="43" fill="#9598a1"/><rect x="1965" y="496" width="8" height="39" fill="#26a69a"/>
<rect x="1984" y="445" width="2" height="73" fill="#26a69a"/>
<rect x="1979" y="493" width="12" height="5" fill="#9598a1"/><rect x="1981" y="495" width="8" height="1" fill="#26a69a"/>
<rect x="2000" y="491" width="2" height="44" fill="#ef5350"/><rect x="1995" y="493" width="12" height="24" fill="#ef5350"/>
<rect x="2016" y="500" width="2" height="32" fill="#ef5350"/><rect x="2011" y="517" width="12" height="3" fill="#ef5350"/>
<rect x="2032" y="516" width="2" height="22" fill="#ef5350"/><rect x="2027" y="519" width="12" height="10" fill="#ef5350"/>
<rect x="2048" y="504" width="2" height="32" fill="#ef5350"/><rect x="2043" y="528" width="12" height="5" fill="#ef5350"/>
<rect x="2064" y="508" width="2" height="27" fill="#26a69a"/>
<rect x="2059" y="513" width="12" height="20" fill="#9598a1"/><rect x="2061" y="515" width="8" height="16" fill="#26a69a"/>
<rect x="2081" y="512" width="2" height="124" fill="#ef5350"/><rect x="2076" y="513" width="12" height="55" fill="#ef5350"/>
<rect x="2097" y="552" width="2" height="100" fill="#ef5350"/><rect x="2092" y="568" width="12" height="50" fill="#ef5350"/>
<rect x="2113" y="602" width="2" height="478" fill="#ef5350"/><rect x="2108" y="618" width="12" height="206" fill="#ef5350"/>
<rect x="2129" y="781" width="2" height="107" fill="#ef5350"/><rect x="2124" y="821" width="12" height="2" fill="#ef5350"/>
<rect x="2145" y="774" width="2" height="64" fill="#26a69a"/>
<rect x="2140" y="786" width="12" height="38" fill="#9598a1"/><rect x="2142" y="788" width="8" height="34" fill="#26a69a"/>
<rect x="2161" y="690" width="2" height="107" fill="#26a69a"/>
<rect x="2156" y="737" width="12" height="51" fill="#9598a1"/><rect x="2158" y="739" width="8" height="47" fill="#26a69a"/>
<rect x="2177" y="734" width="2" height="97" fill="#ef5350"/><rect x="2172" y="738" width="12" height="36" fill="#ef5350"/>
<rect x="2193" y="771" width="2" height="67" fill="#ef5350"/><rect x="2188" y="772" width="12" height="13" fill="#ef5350"/>
<rect x="2209" y="743" width="2" height="54" fill="#26a69a"/>
<rect x="2204" y="759" width="12" height="27" fill="#9598a1"/><rect x="2206" y="761" width="8" height="23" fill="#26a69a"/>
<rect x="2226" y="754" width="2" height="55" fill="#ef5350"/><rect x="2221" y="759" width="12" height="31" fill="#ef5350"/>
<rect x="2242" y="754" width="2" height="64" fill="#26a69a"/>
<rect x="2237" y="770" width="12" height="21" fill="#9598a1"/><rect x="2239" y="772" width="8" height="17" fill="#26a69a"/>
<rect x="2258" y="764" width="2" height="27" fill="#ef5350"/><rect x="2253" y="770" width="12" height="8" fill="#ef5350"/>
<rect x="2274" y="759" width="2" height="35" fill="#26a69a"/>
<rect x="2269" y="775" width="12" height="3" fill="#9598a1"/>
<rect x="2290" y="773" width="2" height="37" fill="#ef5350"/><rect x="2285" y="776" width="12" height="2" fill="#ef5350"/>
<rect x="2306" y="709" width="2" height="95" fill="#26a69a"/>
<rect x="2301" y="733" width="12" height="45" fill="#9598a1"/><rect x="2303" y="735" width="8" height="41" fill="#26a69a"/>
<rect x="2322" y="733" width="2" height="48" fill="#ef5350"/><rect x="2317" y="733" width="12" height="30" fill="#ef5350"/>
<rect x="2338" y="762" width="2" height="87" fill="#ef5350"/><rect x="2333" y="764" width="12" height="46" fill="#ef5350"/>
<rect x="2354" y="808" width="2" height="71" fill="#ef5350"/><rect x="2349" y="810" width="12" height="37" fill="#ef5350"/>
<rect x="2371" y="832" width="2" height="24" fill="#26a69a"/>
<rect x="2366" y="843" width="12" height="4" fill="#9598a1"/>
<rect x="2387" y="810" width="2" height="38" fill="#26a69a"/>
<rect x="2382" y="827" width="12" height="18" fill="#9598a1"/><rect x="2384" y="829" width="8" height="14" fill="#26a69a"/>
<rect x="2403" y="805" width="2" height="44" fill="#26a69a"/>
<rect x="2398" y="817" width="12" height="11" fill="#9598a1"/><rect x="2400" y="819" width="8" height="7" fill="#26a69a"/>
<rect x="2419" y="818" width="2" height="25" fill="#ef5350"/><rect x="2414" y="818" width="12" height="8" fill="#ef5350"/>
<rect x="2435" y="824" width="2" height="40" fill="#ef5350"/><rect x="2430" y="826" width="12" height="5" fill="#ef5350"/>
<rect x="2451" y="821" width="2" height="28" fill="#26a69a"/>
<rect x="2446" y="826" width="12" height="6" fill="#9598a1"/><rect x="2448" y="828" width="8" height="2" fill="#26a69a"/>
<rect x="2467" y="819" width="2" height="38" fill="#ef5350"/><rect x="2462" y="825" width="12" height="2" fill="#ef5350"/>
<rect x="2483" y="827" width="2" height="9" fill="#ef5350"/><rect x="2478" y="828" width="12" height="3" fill="#ef5350"/>
<rect x="2500" y="829" width="2" height="32" fill="#ef5350"/><rect x="2495" y="829" width="12" height="21" fill="#ef5350"/>
<rect x="2516" y="845" width="2" height="112" fill="#ef5350"/><rect x="2511" y="848" width="12" height="65" fill="#ef5350"/>
<rect x="2532" y="874" width="2" height="50" fill="#26a69a"/>
<rect x="2527" y="895" width="12" height="18" fill="#9598a1"/><rect x="2529" y="897" width="8" height="14" fill="#26a69a"/>
<rect x="2548" y="864" width="2" height="52" fill="#26a69a"/>
<rect x="2543" y="887" width="12" height="9" fill="#9598a1"/><rect x="2545" y="889" width="8" height="5" fill="#26a69a"/>
<rect x="2564" y="856" width="2" height="40" fill="#26a69a"/>
<rect x="2559" y="869" width="12" height="19" fill="#9598a1"/><rect x="2561" y="871" width="8" height="15" fill="#26a69a"/>
<rect x="2580" y="817" width="2" height="57" fill="#26a69a"/>
<rect x="2575" y="838" width="12" height="32" fill="#9598a1"/><rect x="2577" y="840" width="8" height="28" fill="#26a69a"/>
<rect x="2596" y="830" width="2" height="18" fill="#ef5350"/><rect x="2591" y="838" width="12" height="4" fill="#ef5350"/>
<rect x="2612" y="838" width="2" height="31" fill="#ef5350"/><rect x="2607" y="840" width="12" height="21" fill="#ef5350"/>
<rect x="2628" y="817" width="2" height="58" fill="#26a69a"/>
<rect x="2623" y="831" width="12" height="30" fill="#9598a1"/><rect x="2625" y="833" width="8" height="26" fill="#26a69a"/>
<rect x="2645" y="794" width="2" height="42" fill="#26a69a"/>
<rect x="2640" y="801" width="12" height="32" fill="#9598a1"/><rect x="2642" y="803" width="8" height="28" fill="#26a69a"/>
<rect x="2661" y="771" width="2" height="50" fill="#26a69a"/>
<rect x="2656" y="783" width="12" height="19" fill="#9598a1"/><rect x="2658" y="785" width="8" height="15" fill="#26a69a"/>
<rect x="2677" y="783" width="2" height="55" fill="#ef5350"/><rect x="2672" y="783" width="12" height="38" fill="#ef5350"/>
<rect x="2693" y="793" width="2" height="35" fill="#26a69a"/>
<rect x="2688" y="806" width="12" height="15" fill="#9598a1"/><rect x="2690" y="808" width="8" height="11" fill="#26a69a"/>
<rect x="2709" y="802" width="2" height="22" fill="#ef5350"/><rect x="2704" y="804" width="12" height="16" fill="#ef5350"/>
<rect x="2725" y="807" width="2" height="35" fill="#ef5350"/><rect x="2720" y="818" width="12" height="15" fill="#ef5350"/>
<rect x="2741" y="820" width="2" height="43" fill="#26a69a"/>
<rect x="2736" y="824" width="12" height="10" fill="#9598a1"/><rect x="2738" y="826" width="8" height="6" fill="#26a69a"/>
<rect x="2757" y="818" width="2" height="30" fill="#ef5350"/><rect x="2752" y="824" width="12" height="11" fill="#ef5350"/>
<rect x="2773" y="819" width="2" height="29" fill="#ef5350"/><rect x="2768" y="835" width="12" height="7" fill="#ef5350"/>
<rect x="2790" y="812" width="2" height="41" fill="#26a69a"/>
<rect x="2785" y="812" width="12" height="30" fill="#9598a1"/><rect x="2787" y="814" width="8" height="26" fill="#26a69a"/>
<rect x="2806" y="710" width="2" height="112" fill="#26a69a"/>
<rect x="2801" y="781" width="12" height="32" fill="#9598a1"/><rect x="2803" y="783" width="8" height="28" fill="#26a69a"/>
<rect x="2822" y="781" width="2" height="22" fill="#ef5350"/><rect x="2817" y="781" width="12" height="20" fill="#ef5350"/>
<rect x="2838" y="770" width="2" height="33" fill="#26a69a"/>
<rect x="2833" y="775" width="12" height="26" fill="#9598a1"/><rect x="2835" y="777" width="8" height="22" fill="#26a69a"/>
<rect x="2854" y="768" width="2" height="56" fill="#ef5350"/><rect x="2849" y="774" width="12" height="34" fill="#ef5350"/>
<rect x="2870" y="710" width="2" height="116" fill="#26a69a"/>
<rect x="2865" y="738" width="12" height="70" fill="#9598a1"/><rect x="2867" y="740" width="8" height="66" fill="#26a69a"/>
<rect x="2886" y="728" width="2" height="60" fill="#ef5350"/><rect x="2881" y="737" width="12" height="16" fill="#ef5350"/>
<rect x="2902" y="753" width="2" height="42" fill="#ef5350"/><rect x="2897" y="753" width="12" height="27" fill="#ef5350"/>
<rect x="2919" y="761" width="2" height="34" fill="#26a69a"/>
<rect x="2914" y="772" width="12" height="8" fill="#9598a1"/><rect x="2916" y="774" width="8" height="4" fill="#26a69a"/>
<rect x="2935" y="770" width="2" height="16" fill="#ef5350"/><rect x="2930" y="770" width="12" height="13" fill="#ef5350"/>
<rect x="2951" y="778" width="2" height="21" fill="#ef5350"/><rect x="2946" y="782" width="12" height="12" fill="#ef5350"/>
<rect x="2967" y="787" width="2" height="89" fill="#ef5350"/><rect x="2962" y="793" width="12" height="39" fill="#ef5350"/>
<rect x="2983" y="831" width="2" height="31" fill="#ef5350"/><rect x="2978" y="832" width="12" height="18" fill="#ef5350"/>
<rect x="2999" y="846" width="2" height="52" fill="#ef5350"/><rect x="2994" y="849" width="12" height="22" fill="#ef5350"/>
<rect x="3015" y="872" width="2" height="44" fill="#ef5350"/><rect x="3010" y="872" width="12" height="16" fill="#ef5350"/>
<rect x="3031" y="865" width="2" height="34" fill="#26a69a"/>
<rect x="3026" y="881" width="12" height="8" fill="#9598a1"/><rect x="3028" y="883" width="8" height="4" fill="#26a69a"/>
<rect x="3047" y="872" width="2" height="13" fill="#26a69a"/>
<rect x="3042" y="877" width="12" height="6" fill="#9598a1"/><rect x="3044" y="879" width="8" height="2" fill="#26a69a"/>
<rect x="3064" y="867" width="2" height="15" fill="#26a69a"/>
<rect x="3059" y="875" width="12" height="4" fill="#9598a1"/>
<rect x="3080" y="809" width="2" height="74" fill="#26a69a"/>
<rect x="3075" y="845" width="12" height="31" fill="#9598a1"/><rect x="3077" y="847" width="8" height="27" fill="#26a69a"/>
<rect x="3096" y="846" width="2" height="36" fill="#ef5350"/><rect x="3091" y="846" width="12" height="19" fill="#ef5350"/>
<rect x="3112" y="861" width="2" height="17" fill="#ef5350"/><rect x="3107" y="865" width="12" height="10" fill="#ef5350"/>
<rect x="3128" y="774" width="2" height="132" fill="#26a69a"/>
<rect x="3123" y="786" width="12" height="89" fill="#9598a1"/><rect x="3125" y="788" width="8" height="85" fill="#26a69a"/>
<rect x="3144" y="756" width="2" height="60" fill="#ef5350"/><rect x="3139" y="785" width="12" height="24" fill="#ef5350"/>
</g>
</g>
<line x1="25" y1="808" x2="3335" y2="808" stroke="#ef5350" stroke-width="2" stroke-dasharray="2 4" shape-rendering="crispEdges"/>
<clipPath id="cr"><rect x="25" y="1305" width="3429" height="210"/></clipPath>
<g clip-path="url(#cr)">
<polyline points="25.0,1399.6 35.0,1395.0 51.0,1396.1 67.0,1405.5 83.0,1400.8 99.0,1395.7 115.0,1398.4 132.0,1398.5 148.0,1407.1 164.0,1394.2 180.0,1423.6 196.0,1434.0 212.0,1446.2 228.0,1431.9 244.0,1434.9 260.0,1437.3 277.0,1431.3 293.0,1436.0 309.0,1432.5 325.0,1423.3 341.0,1424.1 357.0,1429.1 373.0,1433.2 389.0,1433.8 406.0,1434.7 422.0,1436.2 438.0,1430.4 454.0,1436.3 470.0,1444.4 486.0,1457.9 502.0,1457.8 518.0,1455.9 534.0,1461.7 551.0,1450.6 567.0,1454.8 583.0,1453.1 599.0,1450.3 615.0,1432.2 631.0,1425.5 647.0,1415.3 663.0,1407.1 679.0,1406.4 696.0,1419.1 712.0,1414.8 728.0,1412.4 744.0,1425.1 760.0,1423.2 776.0,1408.7 792.0,1405.6 808.0,1396.4 825.0,1386.4 841.0,1372.4 857.0,1378.2 873.0,1389.4 889.0,1380.8 905.0,1386.2 921.0,1378.9 937.0,1404.0 953.0,1393.2 970.0,1402.0 986.0,1398.5 1002.0,1394.2 1018.0,1415.2 1034.0,1407.9 1050.0,1406.1 1066.0,1411.0 1082.0,1434.7 1098.0,1435.0 1115.0,1437.4 1131.0,1434.5 1147.0,1428.9 1163.0,1424.4 1179.0,1424.3 1195.0,1419.4 1211.0,1423.7 1227.0,1422.2 1244.0,1429.5 1260.0,1427.5 1276.0,1435.7 1292.0,1432.7 1308.0,1445.3 1324.0,1436.4 1340.0,1437.4 1356.0,1436.8 1372.0,1425.2 1389.0,1420.1 1405.0,1423.4 1421.0,1432.9 1437.0,1445.2 1453.0,1438.6 1469.0,1436.1 1485.0,1438.4 1501.0,1426.7 1517.0,1429.9 1534.0,1431.4 1550.0,1337.9 1566.0,1375.7 1582.0,1377.1 1598.0,1372.2 1614.0,1375.9 1630.0,1370.1 1646.0,1365.0 1663.0,1374.5 1679.0,1383.5 1695.0,1395.3 1711.0,1393.9 1727.0,1406.1 1743.0,1404.3 1759.0,1402.1 1775.0,1403.4 1791.0,1404.2 1808.0,1404.5 1824.0,1407.8 1840.0,1410.7 1856.0,1407.0 1872.0,1416.6 1888.0,1426.6 1904.0,1436.9 1920.0,1439.5 1936.0,1441.4 1953.0,1441.2 1969.0,1430.9 1985.0,1430.3 2001.0,1435.7 2017.0,1436.3 2033.0,1438.4 2049.0,1439.3 2065.0,1434.4 2082.0,1445.6 2098.0,1455.5 2114.0,1479.5 2130.0,1479.5 2146.0,1469.3 2162.0,1458.2 2178.0,1462.0 2194.0,1463.7 2210.0,1457.5 2227.0,1461.0 2243.0,1455.9 2259.0,1457.0 2275.0,1456.2 2291.0,1456.7 2307.0,1443.4 2323.0,1449.2 2339.0,1456.6 2355.0,1462.7 2372.0,1461.8 2388.0,1456.2 2404.0,1453.2 2420.0,1454.5 2436.0,1455.3 2452.0,1454.0 2468.0,1454.0 2484.0,1455.3 2501.0,1460.1 2517.0,1473.2 2533.0,1465.2 2549.0,1461.4 2565.0,1454.1 2581.0,1440.1 2597.0,1440.6 2613.0,1446.1 2629.0,1434.9 2646.0,1421.9 2662.0,1415.7 2678.0,1429.2 2694.0,1423.9 2710.0,1428.6 2726.0,1433.1 2742.0,1430.3 2758.0,1433.3 2774.0,1436.6 2791.0,1422.9 2807.0,1411.1 2823.0,1418.9 2839.0,1410.0 2855.0,1421.5 2871.0,1401.4 2887.0,1405.8 2903.0,1415.7 2920.0,1414.3 2936.0,1418.3 2952.0,1422.3 2968.0,1435.8 2984.0,1441.3 3000.0,1446.8 3016.0,1452.0 3032.0,1449.8 3048.0,1447.6 3065.0,1446.6 3081.0,1432.9 3097.0,1438.2 3113.0,1442.4 3129.0,1408.7 3145.0,1415.3" fill="none" stroke="#7e57c2" stroke-width="2.4" stroke-opacity="1" stroke-linejoin="round" stroke-linecap="round"/>
<polyline points="25.0,1390.7 35.0,1391.4 51.0,1392.5 67.0,1394.7 83.0,1396.6 99.0,1398.2 115.0,1399.1 132.0,1399.6 148.0,1399.6 164.0,1399.1 180.0,1401.0 196.0,1403.7 212.0,1406.9 228.0,1409.4 244.0,1411.8 260.0,1414.7 277.0,1417.3 293.0,1419.8 309.0,1421.9 325.0,1423.8 341.0,1425.7 357.0,1428.4 373.0,1430.5 389.0,1432.2 406.0,1432.8 422.0,1433.0 438.0,1432.0 454.0,1432.8 470.0,1433.6 486.0,1435.2 502.0,1436.8 518.0,1438.2 534.0,1440.3 551.0,1442.3 567.0,1444.2 583.0,1445.8 599.0,1446.9 615.0,1446.9 631.0,1446.1 647.0,1444.8 663.0,1442.9 679.0,1441.0 696.0,1438.8 712.0,1436.0 728.0,1432.9 744.0,1430.9 760.0,1428.3 776.0,1425.3 792.0,1421.9 808.0,1417.6 825.0,1413.0 841.0,1408.6 857.0,1405.4 873.0,1403.3 889.0,1401.4 905.0,1399.7 921.0,1397.1 937.0,1396.0 953.0,1393.9 970.0,1392.7 986.0,1391.1 1002.0,1390.4 1018.0,1391.2 1034.0,1392.1 1050.0,1393.5 1066.0,1396.2 1082.0,1399.8 1098.0,1403.3 1115.0,1407.3 1131.0,1411.0 1147.0,1414.4 1163.0,1416.0 1179.0,1417.9 1195.0,1419.5 1211.0,1421.1 1227.0,1422.5 1244.0,1424.2 1260.0,1425.6 1276.0,1427.5 1292.0,1429.0 1308.0,1430.1 1324.0,1430.3 1340.0,1430.3 1356.0,1430.3 1372.0,1429.5 1389.0,1429.8 1405.0,1429.8 1421.0,1430.9 1437.0,1432.2 1453.0,1433.3 1469.0,1433.9 1485.0,1434.7 1501.0,1434.1 1517.0,1433.9 1534.0,1432.6 1550.0,1426.4 1566.0,1421.4 1582.0,1417.3 1598.0,1413.5 1614.0,1410.6 1630.0,1406.2 1646.0,1401.9 1663.0,1396.6 1679.0,1392.2 1695.0,1389.3 1711.0,1386.3 1727.0,1385.0 1743.0,1382.8 1759.0,1380.9 1775.0,1385.3 1791.0,1387.3 1808.0,1389.9 1824.0,1392.3 1840.0,1394.7 1856.0,1397.7 1872.0,1401.2 1888.0,1405.0 1904.0,1408.5 1920.0,1411.7 1936.0,1415.0 1953.0,1417.9 1969.0,1420.0 1985.0,1422.2 2001.0,1424.3 2017.0,1426.5 2033.0,1428.9 2049.0,1431.0 2065.0,1432.7 2082.0,1435.5 2098.0,1438.2 2114.0,1442.0 2130.0,1445.0 2146.0,1446.9 2162.0,1448.0 2178.0,1449.6 2194.0,1451.7 2210.0,1453.6 2227.0,1455.6 2243.0,1457.2 2259.0,1458.6 2275.0,1459.4 2291.0,1461.3 2307.0,1461.3 2323.0,1460.8 2339.0,1459.5 2355.0,1458.4 2372.0,1457.5 2388.0,1457.0 2404.0,1456.1 2420.0,1455.6 2436.0,1455.3 2452.0,1455.1 2468.0,1455.1 2484.0,1455.1 2501.0,1455.3 2517.0,1456.7 2533.0,1458.3 2549.0,1459.1 2565.0,1458.6 2581.0,1457.0 2597.0,1455.4 2613.0,1454.5 2629.0,1453.5 2646.0,1451.0 2662.0,1448.3 2678.0,1446.4 2694.0,1444.5 2710.0,1442.6 2726.0,1440.3 2742.0,1437.6 2758.0,1435.4 2774.0,1433.5 2791.0,1430.9 2807.0,1429.0 2823.0,1427.4 2839.0,1425.2 2855.0,1424.1 2871.0,1423.1 2887.0,1422.2 2903.0,1421.2 2920.0,1420.3 2936.0,1419.5 2952.0,1419.2 2968.0,1419.4 2984.0,1420.0 3000.0,1420.8 3016.0,1422.9 3032.0,1425.3 3048.0,1427.7 3065.0,1430.0 3081.0,1431.1 3097.0,1433.7 3113.0,1435.9 3129.0,1435.8 3145.0,1435.8" fill="none" stroke="#ffeb3b" stroke-width="2.4" stroke-opacity="1" stroke-linejoin="round" stroke-linecap="round"/>
</g>
<g shape-rendering="crispEdges">
<rect x="25" y="1304" width="3578" height="2" fill="#e1ebf3"/>
</g><rect x="25.1" y="67.1" width="3578.2" height="1516.7" fill="none" stroke="#e3e8f0" stroke-width="1.2"/><g shape-rendering="crispEdges">
<rect x="3453" y="67" width="2" height="1517" fill="#4a4a4a"/>
<rect x="25" y="1514" width="3578" height="2" fill="#4a4a4a"/>
</g>
<text x="25.3" y="49.0" font-size="31.0" fill="#131722" stroke="#131722" textLength="190.8" lengthAdjust="spacingAndGlyphs" style="stroke-width:0.4px;">Jake_Simmons</text>
<text x="229.1" y="49.0" font-size="31.0" fill="#131722" stroke="#131722" textLength="127.7" lengthAdjust="spacingAndGlyphs" style="stroke-width:0.4px;">published</text>
<text x="370.9" y="49.0" font-size="31.0" fill="#131722" stroke="#131722" textLength="31.2" lengthAdjust="spacingAndGlyphs" style="stroke-width:0.4px;">on</text>
<text x="414.9" y="49.0" font-size="31.0" fill="#131722" stroke="#131722" textLength="235.9" lengthAdjust="spacingAndGlyphs" style="stroke-width:0.4px;">TradingView.com,</text>
<text x="663.6" y="49.0" font-size="31.0" fill="#131722" stroke="#131722" textLength="50.8" lengthAdjust="spacingAndGlyphs" style="stroke-width:0.4px;">Oct</text>
<text x="726.1" y="49.0" font-size="31.0" fill="#131722" stroke="#131722" textLength="38.0" lengthAdjust="spacingAndGlyphs" style="stroke-width:0.4px;">20,</text>
<text x="775.5" y="49.0" font-size="31.0" fill="#131722" stroke="#131722" textLength="59.2" lengthAdjust="spacingAndGlyphs" style="stroke-width:0.4px;">2023</text>
<text x="846.2" y="49.0" font-size="31.0" fill="#131722" stroke="#131722" textLength="68.8" lengthAdjust="spacingAndGlyphs" style="stroke-width:0.4px;">04:15</text>
<text x="925.8" y="49.0" font-size="31.0" fill="#131722" stroke="#131722" textLength="80.2" lengthAdjust="spacingAndGlyphs" style="stroke-width:0.4px;">UTC-4</text>
<text x="45.7" y="116.3" font-size="30.7" fill="#4d4d4d" stroke="#4d4d4d" textLength="50.0" lengthAdjust="spacingAndGlyphs" style="stroke-width:0.7px;">XRP</text>
<text x="110.1" y="116.3" font-size="30.7" fill="#4d4d4d" stroke="#4d4d4d" textLength="9.5" lengthAdjust="spacingAndGlyphs" style="stroke-width:0.7px;">/</text>
<text x="133.2" y="116.3" font-size="30.7" fill="#4d4d4d" stroke="#4d4d4d" textLength="53.0" lengthAdjust="spacingAndGlyphs" style="stroke-width:0.7px;">U.S.</text>
<text x="199.2" y="116.3" font-size="30.7" fill="#4d4d4d" stroke="#4d4d4d" textLength="80.2" lengthAdjust="spacingAndGlyphs" style="stroke-width:0.7px;">Dollar,</text>
<text x="292.1" y="116.3" font-size="30.7" fill="#4d4d4d" stroke="#4d4d4d" textLength="39.9" lengthAdjust="spacingAndGlyphs" style="stroke-width:0.7px;">1D,</text>
<text x="344.6" y="116.3" font-size="30.7" fill="#4d4d4d" stroke="#4d4d4d" textLength="114.7" lengthAdjust="spacingAndGlyphs" style="stroke-width:0.7px;">BITFINEX</text>
<text x="480.4" y="116.3" font-size="30.7" fill="#4d4d4d" stroke="#4d4d4d" textLength="19.1" lengthAdjust="spacingAndGlyphs" style="stroke-width:0.7px;">O</text>
<text x="623.6" y="116.3" font-size="30.7" fill="#4d4d4d" stroke="#4d4d4d" textLength="17.0" lengthAdjust="spacingAndGlyphs" style="stroke-width:0.7px;">H</text>
<text x="763.6" y="116.3" font-size="30.7" fill="#4d4d4d" stroke="#4d4d4d" textLength="12.4" lengthAdjust="spacingAndGlyphs" style="stroke-width:0.7px;">L</text>
<text x="897.8" y="116.3" font-size="30.7" fill="#4d4d4d" stroke="#4d4d4d" textLength="16.5" lengthAdjust="spacingAndGlyphs" style="stroke-width:0.7px;">C</text>
<text x="502.7" y="116.3" font-size="30.7" fill="#ef5350" stroke="#ef5350" textLength="99.2" lengthAdjust="spacingAndGlyphs" style="stroke-width:0.7px;">0.52045</text>
<text x="642.7" y="116.3" font-size="30.7" fill="#ef5350" stroke="#ef5350" textLength="99.7" lengthAdjust="spacingAndGlyphs" style="stroke-width:0.7px;">0.53155</text>
<text x="777.7" y="116.3" font-size="30.7" fill="#ef5350" stroke="#ef5350" textLength="100.0" lengthAdjust="spacingAndGlyphs" style="stroke-width:0.7px;">0.50914</text>
<text x="915.8" y="116.3" font-size="30.7" fill="#ef5350" stroke="#ef5350" textLength="96.2" lengthAdjust="spacingAndGlyphs" style="stroke-width:0.7px;">0.51211</text>
<text x="1036.4" y="116.3" font-size="30.7" fill="#ef5350" stroke="#ef5350" textLength="113.6" lengthAdjust="spacingAndGlyphs" style="stroke-width:0.7px;">−0.00810</text>
<text x="1162.2" y="116.3" font-size="30.7" fill="#ef5350" stroke="#ef5350" textLength="104.6" lengthAdjust="spacingAndGlyphs" style="stroke-width:0.7px;">(−1.56%)</text>
<text x="45.7" y="157.6" font-size="30.7" fill="#4d4d4d" stroke="#4d4d4d" textLength="39.9" lengthAdjust="spacingAndGlyphs" style="stroke-width:0.7px;">Vol</text>
<text x="115.5" y="157.6" font-size="30.7" fill="#4d4d4d" stroke="#4d4d4d" textLength="50.8" lengthAdjust="spacingAndGlyphs" style="stroke-width:0.7px;">XRP</text>
<text x="100.5" y="157.6" font-size="34.7" fill="#4d4d4d" stroke="#4d4d4d" text-anchor="middle" style="stroke-width:0.7px;">·</text>
<text x="189.4" y="157.6" font-size="30.7" fill="#ef5350" stroke="#ef5350" textLength="89.6" lengthAdjust="spacingAndGlyphs" style="stroke-width:0.7px;">1.353M</text>
<text x="45.7" y="241.3" font-size="30.7" fill="#4d4d4d" stroke="#4d4d4d" textLength="39.9" lengthAdjust="spacingAndGlyphs" style="stroke-width:0.7px;">Vol</text>
<text x="115.5" y="241.3" font-size="30.7" fill="#4d4d4d" stroke="#4d4d4d" textLength="50.8" lengthAdjust="spacingAndGlyphs" style="stroke-width:0.7px;">XRP</text>
<text x="100.5" y="241.3" font-size="34.7" fill="#4d4d4d" stroke="#4d4d4d" text-anchor="middle" style="stroke-width:0.7px;">·</text>
<text x="189.4" y="241.3" font-size="30.7" fill="#ef5350" stroke="#ef5350" textLength="89.6" lengthAdjust="spacingAndGlyphs" style="stroke-width:0.7px;">1.353M</text>
<text x="45.7" y="199.7" font-size="30.7" fill="#4d4d4d" stroke="#4d4d4d" textLength="57.1" lengthAdjust="spacingAndGlyphs" style="stroke-width:0.7px;">EMA</text>
<text x="112.8" y="199.7" font-size="30.7" fill="#4d4d4d" stroke="#4d4d4d" textLength="194.8" lengthAdjust="spacingAndGlyphs" style="stroke-width:0.7px;">20/50/100/200</text>
<text x="328.0" y="199.7" font-size="30.7" fill="#ff0000" stroke="#ff0000" textLength="100.0" lengthAdjust="spacingAndGlyphs" style="stroke-width:0.7px;">0.50324</text>
<text x="447.8" y="199.7" font-size="30.7" fill="#ff7f00" stroke="#ff7f00" textLength="99.8" lengthAdjust="spacingAndGlyphs" style="stroke-width:0.7px;">0.51464</text>
<text x="568.0" y="199.7" font-size="30.7" fill="#00ffff" stroke="#00ffff" textLength="99.0" lengthAdjust="spacingAndGlyphs" style="stroke-width:0.7px;">0.52653</text>
<text x="688.0" y="199.7" font-size="30.7" fill="#0000ff" stroke="#0000ff" textLength="98.7" lengthAdjust="spacingAndGlyphs" style="stroke-width:0.7px;">0.51722</text>
<text x="45.7" y="1354.8" font-size="30.7" fill="#4d4d4d" stroke="#4d4d4d" textLength="38.6" lengthAdjust="spacingAndGlyphs" style="stroke-width:0.7px;">RSI</text>
<text x="97.8" y="1354.8" font-size="30.7" fill="#4d4d4d" stroke="#4d4d4d" textLength="46.2" lengthAdjust="spacingAndGlyphs" style="stroke-width:0.7px;">(14,</text>
<text x="155.4" y="1354.8" font-size="30.7" fill="#4d4d4d" stroke="#4d4d4d" textLength="78.8" lengthAdjust="spacingAndGlyphs" style="stroke-width:0.7px;">close,</text>
<text x="247.8" y="1354.8" font-size="30.7" fill="#4d4d4d" stroke="#4d4d4d" textLength="65.2" lengthAdjust="spacingAndGlyphs" style="stroke-width:0.7px;">SMA,</text>
<text x="326.1" y="1354.8" font-size="30.7" fill="#4d4d4d" stroke="#4d4d4d" textLength="36.7" lengthAdjust="spacingAndGlyphs" style="stroke-width:0.7px;">14,</text>
<text x="375.0" y="1354.8" font-size="30.7" fill="#4d4d4d" stroke="#4d4d4d" textLength="24.5" lengthAdjust="spacingAndGlyphs" style="stroke-width:0.7px;">2)</text>
<text x="421.0" y="1354.8" font-size="30.7" fill="#7e57c2" stroke="#7e57c2" textLength="68.0" lengthAdjust="spacingAndGlyphs" style="stroke-width:0.7px;">53.15</text>
<text x="510.0" y="1354.8" font-size="30.7" fill="#ffeb3b" stroke="#ffeb3b" textLength="70.0" lengthAdjust="spacingAndGlyphs" style="stroke-width:0.7px;">44.24</text>
<text x="601.1" y="1355.1" font-size="31.5" fill="#4d4d4d" stroke="#4d4d4d" style="font-family:'DejaVu Sans',sans-serif;stroke-width:0;">∅</text>
<text x="650.0" y="1355.1" font-size="31.5" fill="#4d4d4d" stroke="#4d4d4d" style="font-family:'DejaVu Sans',sans-serif;stroke-width:0;">∅</text>
<text x="3471.0" y="205.0" font-size="25.8" fill="#555" stroke="#555" textLength="98.5" lengthAdjust="spacingAndGlyphs">0.80000</text>
<text x="3471.0" y="293.0" font-size="25.8" fill="#555" stroke="#555" textLength="98.5" lengthAdjust="spacingAndGlyphs">0.75000</text>
<text x="3471.0" y="388.0" font-size="25.8" fill="#555" stroke="#555" textLength="98.5" lengthAdjust="spacingAndGlyphs">0.70000</text>
<text x="3471.0" y="469.0" font-size="25.8" fill="#555" stroke="#555" textLength="98.5" lengthAdjust="spacingAndGlyphs">0.66000</text>
<text x="3471.0" y="555.0" font-size="25.8" fill="#555" stroke="#555" textLength="98.5" lengthAdjust="spacingAndGlyphs">0.62000</text>
<text x="3471.0" y="647.0" font-size="25.8" fill="#555" stroke="#555" textLength="98.5" lengthAdjust="spacingAndGlyphs">0.58000</text>
<text x="3471.0" y="745.0" font-size="25.8" fill="#555" stroke="#555" textLength="98.5" lengthAdjust="spacingAndGlyphs">0.54000</text>
<text x="3471.0" y="936.0" font-size="25.8" fill="#555" stroke="#555" textLength="98.5" lengthAdjust="spacingAndGlyphs">0.47000</text>
<text x="3471.0" y="1026.0" font-size="25.8" fill="#555" stroke="#555" textLength="98.5" lengthAdjust="spacingAndGlyphs">0.44000</text>
<text x="3471.0" y="1107.0" font-size="25.8" fill="#555" stroke="#555" textLength="98.5" lengthAdjust="spacingAndGlyphs">0.41500</text>
<text x="3471.0" y="1192.0" font-size="25.8" fill="#555" stroke="#555" textLength="98.5" lengthAdjust="spacingAndGlyphs">0.39000</text>
<text x="3471.0" y="1264.0" font-size="25.8" fill="#555" stroke="#555" textLength="98.5" lengthAdjust="spacingAndGlyphs">0.37000</text>
<text x="3471.3" y="1366.1" font-size="25.8" fill="#555" stroke="#555" textLength="68.5" lengthAdjust="spacingAndGlyphs">80.00</text>
<text x="3471.3" y="1455.1" font-size="25.8" fill="#555" stroke="#555" textLength="68.5" lengthAdjust="spacingAndGlyphs">40.00</text>
<text x="134.9" y="1559.0" font-size="25.8" fill="#555" stroke="#555" textLength="26.5" lengthAdjust="spacingAndGlyphs">17</text>
<text x="348.2" y="1559.0" font-size="25.8" fill="#555" stroke="#555" textLength="48.3" lengthAdjust="spacingAndGlyphs" class="b" style="stroke-width:0;">May</text>
<text x="586.0" y="1559.0" font-size="25.8" fill="#555" stroke="#555" textLength="26.5" lengthAdjust="spacingAndGlyphs">15</text>
<text x="848.6" y="1559.0" font-size="25.8" fill="#555" stroke="#555" textLength="47.6" lengthAdjust="spacingAndGlyphs" class="b" style="stroke-width:0;">Jun</text>
<text x="1150.0" y="1559.0" font-size="25.8" fill="#555" stroke="#555" textLength="26.5" lengthAdjust="spacingAndGlyphs">19</text>
<text x="1336.4" y="1559.0" font-size="25.8" fill="#555" stroke="#555" textLength="40.0" lengthAdjust="spacingAndGlyphs" class="b" style="stroke-width:0;">Jul</text>
<text x="1601.0" y="1559.0" font-size="25.8" fill="#555" stroke="#555" textLength="26.5" lengthAdjust="spacingAndGlyphs">17</text>
<text x="1830.1" y="1559.0" font-size="25.8" fill="#555" stroke="#555" textLength="50.7" lengthAdjust="spacingAndGlyphs" class="b" style="stroke-width:0;">Aug</text>
<text x="2052.9" y="1559.0" font-size="25.8" fill="#555" stroke="#555" textLength="26.5" lengthAdjust="spacingAndGlyphs">14</text>
<text x="2331.7" y="1559.0" font-size="25.8" fill="#555" stroke="#555" textLength="47.4" lengthAdjust="spacingAndGlyphs" class="b" style="stroke-width:0;">Sep</text>
<text x="2616.9" y="1559.0" font-size="25.8" fill="#555" stroke="#555" textLength="26.5" lengthAdjust="spacingAndGlyphs">18</text>
<text x="2814.9" y="1559.0" font-size="25.8" fill="#555" stroke="#555" textLength="47.0" lengthAdjust="spacingAndGlyphs" class="b" style="stroke-width:0;">Oct</text>
<text x="3067.9" y="1559.0" font-size="25.8" fill="#555" stroke="#555" textLength="26.5" lengthAdjust="spacingAndGlyphs">16</text>
<text x="3314.7" y="1559.0" font-size="25.8" fill="#555" stroke="#555" textLength="47.4" lengthAdjust="spacingAndGlyphs" class="b" style="stroke-width:0;">Nov</text>
<rect x="3463" y="76.5" width="130" height="64.5" rx="9" fill="#fff" stroke="#e6e9f0" stroke-width="1.2"/>
<text x="3487.5" y="118.4" font-size="25.6" fill="#131722" stroke="#131722" textLength="44.3" lengthAdjust="spacingAndGlyphs">USD</text>
<path d="M3338.4 788h112.300v39.700h-112.300a3.500 3.500 0 0 1-3.500-3.500v-32.700a3.500 3.500 0 0 1 3.500-3.500z" fill="#ef5350"/>
<path d="M3453 788h135.600a4.500 4.500 0 0 1 4.500 4.500v62.700a4.500 4.500 0 0 1-4.500 4.500h-135.600z" fill="#ef5350"/>
<text x="3344.7" y="817.5" font-size="25.8" fill="#fff" stroke="#fff" textLength="93.5" lengthAdjust="spacingAndGlyphs">XRPUSD</text>
<text x="3472.0" y="817.6" font-size="25.8" fill="#fff" stroke="#fff" textLength="96.5" lengthAdjust="spacingAndGlyphs">0.51211</text>
<text x="3473.3" y="849.8" font-size="25.8" fill="#fff" stroke="#fff" textLength="107.5" lengthAdjust="spacingAndGlyphs" fill-opacity="0.75" stroke-opacity="0.75">15:44:20</text>
<g fill="#131722"><path d="M25.600 1614.700h19.200v24.600h-9.800v-13.700h-9.400z"/><circle cx="52.600" cy="1619.700" r="4.900"/><path d="M59.800 1614.700h13.700l-9.600 24.600h-10.900z"/></g>
<text x="83.0" y="1640.3" font-size="33" fill="#131722" stroke="#131722" textLength="176.2" lengthAdjust="spacingAndGlyphs" style="stroke-width:0.8px">TradingView</text>
</svg></body></html>
